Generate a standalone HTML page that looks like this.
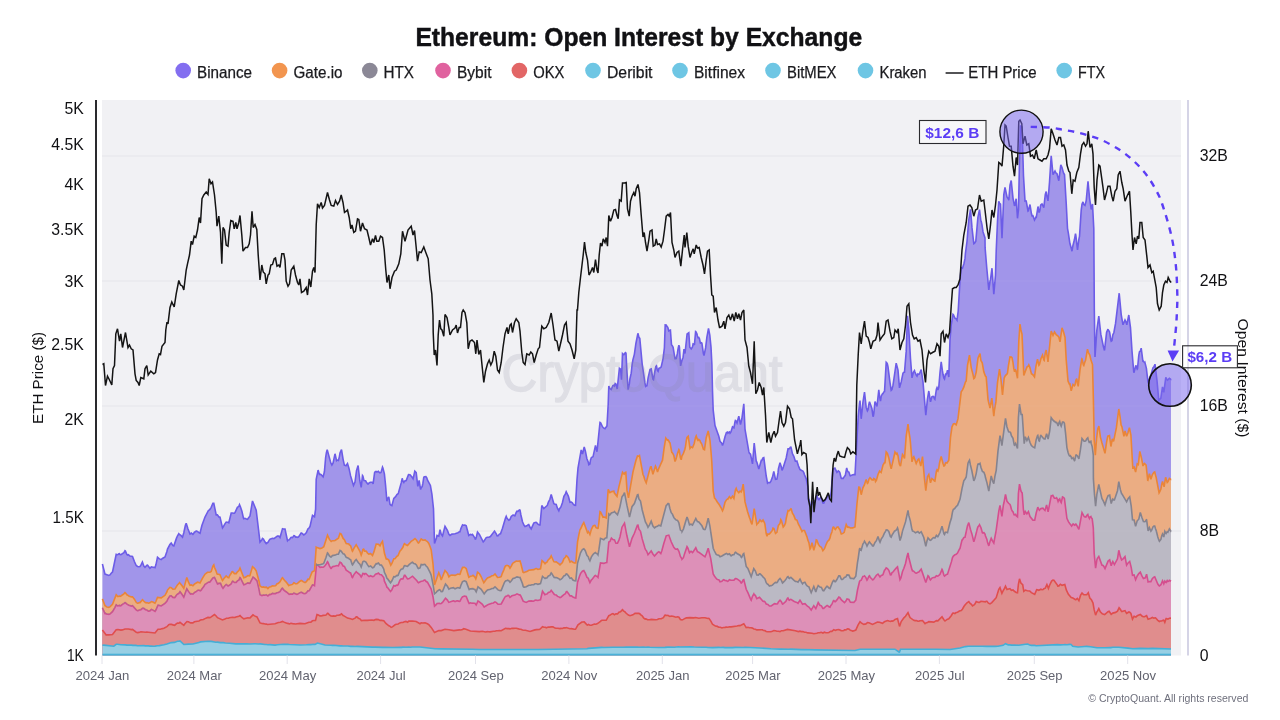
<!DOCTYPE html>
<html lang="en"><head><meta charset="utf-8"><title>Ethereum: Open Interest by Exchange</title>
<style>html,body{margin:0;padding:0;background:#fff}body{width:1280px;height:720px;overflow:hidden}svg{display:block}text{font-family:"Liberation Sans",Arial,Helvetica,sans-serif}</style></head><body>
<svg width="1280" height="720" viewBox="0 0 1280 720">
<rect width="1280" height="720" fill="#ffffff"/>
<text x="415.4" y="46.2" font-size="25" font-weight="700" fill="#111114" stroke="#111114" stroke-width="0.45" textLength="446.8" lengthAdjust="spacingAndGlyphs">Ethereum: Open Interest by Exchange</text>
<circle cx="183.2" cy="70.6" r="7.8" fill="#836ef0"/>
<text x="197.0" y="77.7" font-size="15.6" fill="#1a1a1e" stroke="#1a1a1e" stroke-width="0.25" textLength="55.0" lengthAdjust="spacingAndGlyphs">Binance</text>
<circle cx="279.6" cy="70.6" r="7.8" fill="#f2954f"/>
<text x="293.5" y="77.7" font-size="15.6" fill="#1a1a1e" stroke="#1a1a1e" stroke-width="0.25" textLength="49.0" lengthAdjust="spacingAndGlyphs">Gate.io</text>
<circle cx="369.8" cy="70.6" r="7.8" fill="#8b8896"/>
<text x="383.5" y="77.7" font-size="15.6" fill="#1a1a1e" stroke="#1a1a1e" stroke-width="0.25" textLength="30.5" lengthAdjust="spacingAndGlyphs">HTX</text>
<circle cx="443" cy="70.6" r="7.8" fill="#e0629f"/>
<text x="457.0" y="77.7" font-size="15.6" fill="#1a1a1e" stroke="#1a1a1e" stroke-width="0.25" textLength="34.5" lengthAdjust="spacingAndGlyphs">Bybit</text>
<circle cx="519.4" cy="70.6" r="7.8" fill="#e26666"/>
<text x="533.25" y="77.7" font-size="15.6" fill="#1a1a1e" stroke="#1a1a1e" stroke-width="0.25" textLength="31.2" lengthAdjust="spacingAndGlyphs">OKX</text>
<circle cx="593" cy="70.6" r="7.8" fill="#6ec6e4"/>
<text x="607.0" y="77.7" font-size="15.6" fill="#1a1a1e" stroke="#1a1a1e" stroke-width="0.25" textLength="45.5" lengthAdjust="spacingAndGlyphs">Deribit</text>
<circle cx="680" cy="70.6" r="7.8" fill="#6ec6e4"/>
<text x="694.0" y="77.7" font-size="15.6" fill="#1a1a1e" stroke="#1a1a1e" stroke-width="0.25" textLength="51.0" lengthAdjust="spacingAndGlyphs">Bitfinex</text>
<circle cx="773" cy="70.6" r="7.8" fill="#6ec6e4"/>
<text x="787.0" y="77.7" font-size="15.6" fill="#1a1a1e" stroke="#1a1a1e" stroke-width="0.25" textLength="49.5" lengthAdjust="spacingAndGlyphs">BitMEX</text>
<circle cx="865.5" cy="70.6" r="7.8" fill="#6ec6e4"/>
<text x="879.5" y="77.7" font-size="15.6" fill="#1a1a1e" stroke="#1a1a1e" stroke-width="0.25" textLength="47.0" lengthAdjust="spacingAndGlyphs">Kraken</text>
<circle cx="1064.2" cy="70.6" r="7.8" fill="#6ec6e4"/>
<text x="1078.0" y="77.7" font-size="15.6" fill="#1a1a1e" stroke="#1a1a1e" stroke-width="0.25" textLength="27.0" lengthAdjust="spacingAndGlyphs">FTX</text>
<line x1="945.6" y1="73" x2="963.6" y2="73" stroke="#1a1a1e" stroke-width="1.5"/>
<text x="968.3" y="77.7" font-size="15.6" fill="#1a1a1e" stroke="#1a1a1e" stroke-width="0.25" textLength="68.2" lengthAdjust="spacingAndGlyphs">ETH Price</text>
<rect x="102.0" y="100.0" width="1079.0" height="555.5" fill="#f1f1f4"/>
<line x1="102.0" y1="156" x2="1181.0" y2="156" stroke="#e5e5ea" stroke-width="1"/>
<line x1="102.0" y1="281" x2="1181.0" y2="281" stroke="#e5e5ea" stroke-width="1"/>
<line x1="102.0" y1="406" x2="1181.0" y2="406" stroke="#e5e5ea" stroke-width="1"/>
<line x1="102.0" y1="531" x2="1181.0" y2="531" stroke="#e5e5ea" stroke-width="1"/>
<path d="M102.4,564L105,574.1L108.8,575.4L109.9,574.9L111.4,573L112.5,572L116.2,554.3L117.4,554.7L117.9,554.6L118.9,553.8L119.4,553.7L120,554.6L120.9,554.7L123.9,552.7L125,550.8L125.4,551.1L126.9,554.5L127.5,555L128.4,554.6L129.9,556.1L132.5,556.4L134.4,561.5L136.2,565.5L137.5,566.5L138.9,566.7L140,566.5L140.9,565.2L142.4,562.1L143.8,566L145,567.3L146.9,565.2L147.5,565.1L149.9,568.2L151.4,566.8L152.9,567.3L154.4,567.4L155,567.7L155.9,564.8L157.5,557.3L159.4,558.9L161.2,559.5L162.4,558.5L165,557L166.9,551.4L167.5,549L169.9,544.5L171.2,543L172.9,545.6L173.8,545.9L176.4,538.4L177.4,536L178.8,533.7L179.4,534.4L180.9,535.4L182.5,537.2L183.8,532.7L185.4,525.3L186.2,523.2L187.9,528.7L190,534.1L191.4,533.1L192.9,534.3L193.8,533.3L194.4,532.2L195.9,531.4L196.2,530.9L197.4,531.4L198.9,532.7L200,533.3L201.9,525.6L205,517.1L208.4,510.5L209.4,509.9L209.9,509.4L211.2,507.3L212.9,503.3L213.8,503.3L216.2,514.9L217.4,514.8L218.9,516.9L220,517.1L222.5,527.9L223.4,526.6L224.9,523.9L226.2,522.1L226.9,522.3L227.9,522.2L228.8,522.7L231.2,513L232.5,513L233.9,513.2L234.4,513.2L235,512.6L237.4,507.3L238.9,506.3L239.5,504.6L240.4,506.7L241.9,511.2L243.4,518L243.8,518.8L244.9,518.3L246.4,519L247.5,519.3L250,515.9L252.5,501L256.2,510.1L260,542.1L261.9,539.7L262.5,538.5L263.4,539.1L264.9,541.8L266.2,543.7L267.9,542.4L269.4,539.9L270,539.3L272.5,538.3L273.9,538.6L277.4,536.1L278.4,536L278.9,536.2L280,537.5L282.5,528.7L283.4,529L285,529.1L287.5,540.7L287.9,540.2L289.4,539.7L290.9,537.5L291.2,537.3L292.5,537.6L293.9,535.6L294.4,535.7L295,536.3L295.4,537L295.9,537.2L296.9,536.9L297.5,537.4L298.4,537.1L301.2,533L301.9,533.2L303.8,534.9L304.9,534.2L306.4,532.5L307.9,528.9L309.4,527.5L310,526.4L312.5,515.4L313.9,516.5L314.5,516.8L315.6,509.2L316.2,479.3L318.1,470.1L319.4,474.4L320,474.2L321.2,474.7L323.1,476.9L324.4,471.8L325.6,457.8L326.4,452.7L327.2,449.7L330.4,461.4L330.9,463L331.9,465L333.1,463L335,453.8L336.5,460.4L336.9,459.9L338.4,460.4L339.4,456.6L340,452.9L341.5,449.6L343.1,459.3L344.4,465.3L344.9,465.3L346,465.8L347.5,463.6L349,468.4L350.6,475.9L353.5,485.4L355,482.1L356.5,470.6L358.1,465.5L359.8,480.5L361.2,487.4L362.5,475.6L362.9,476.1L364,480.6L365.6,480.8L366.4,482.3L367.9,484L368.1,484.1L369.4,482.8L370.6,482.3L371.9,482.2L372.4,482.5L373.1,483.9L374.6,472.6L375.4,471.6L376.5,471.5L376.9,472L378.4,471.3L378.8,471.9L379.9,472.8L381,472.4L382.5,467.2L382.9,468.1L384.4,473.8L385.6,485.5L386.9,501.3L387.5,499.1L388.8,496.8L390,504.3L390.8,505L391.9,505.6L393.8,498.4L395.4,496.9L396.2,495.8L396.9,494.6L398.1,493.7L398.4,493L401.2,482.9L402.2,478.3L402.9,481.2L403.8,482.5L404.4,481.2L406.2,480.6L408.5,474.6L410,474.8L411.9,477L413.1,478.8L414.8,471.2L416.2,472.6L417.8,486.3L418.4,484.2L419.1,480.5L420.6,489.6L421.2,487.6L422.2,486.5L422.9,483.2L423.8,477.2L424.4,476.8L425.9,476.7L426.9,478.1L427.4,479.9L430.4,485.4L431.9,494L433.5,508.7L434.5,543.5L436.4,538L437,535.4L438.8,536.2L440,529.7L441.2,534.2L442.5,535.9L445,526.3L447.4,530.4L448.9,534.3L450,535.4L451.9,534.1L455,533.7L457.9,532.7L459.4,531.8L460,531.7L460.9,528.6L462.5,524.9L462.9,525.2L464.4,525L465.4,525.2L466.2,525.8L468.8,535.4L470.4,534.4L471.9,534.8L472.5,534.4L474.9,538L475.5,539.6L476.4,536.7L477.5,532.1L479.4,534.4L483.2,541.9L484.2,540.7L486.2,537.6L487.4,537.3L488.9,537.2L490.4,536.6L494.5,531.1L496.4,534.1L497,535.8L497.9,535.9L499.4,534.1L500.5,533.8L502.4,528.4L505.5,518L506.2,516.3L507,518.4L508.8,520.3L510,519.4L511.2,516.4L511.9,515.8L513,515.1L513.4,515L514.4,515.7L514.9,515.8L516.2,512.4L517,511.2L517.9,511.3L519.4,509.9L520,510.1L520.9,515L522.5,521.8L523.9,525.1L525,526.5L526.9,525.8L528.4,524.6L528.8,524.6L530,527.3L531.2,528.9L533.8,523.1L534.4,522.7L535.9,522.3L536.4,522.5L537.9,524.1L539.4,524.9L540,524.9L541.8,505.5L543.8,508.6L546.9,505.8L547.5,504.8L548.4,502.1L549.9,499.3L551.2,494.4L553.8,503.5L554.4,503.9L556.2,504.4L557.5,508.5L558.8,510.8L559.4,508.9L560.9,506.9L562.4,502.7L563.9,496.2L565.4,493.9L566.2,491.8L568.4,496.2L570,502.3L571.4,502L572.5,503L572.9,503.7L574.4,505.3L575.5,505.4L577,479.7L578,468.1L581.2,449.9L582.5,454L584.2,447L585.4,451.2L586.9,458.7L588.4,462.5L588.8,464.6L589.9,463.9L590.5,460L591.4,457.5L593,456.8L595.5,445.4L595.9,447.8L597,451.7L600,422.4L600.5,422.6L600.9,423.3L602.5,426.9L603.8,428.2L605,428.8L605.4,428L606.8,426.3L607,425.2L608.2,404.3L608.8,386L609.9,388.6L611.2,389.6L612.9,385.5L613.8,385.1L614.4,385.8L615.2,383.5L615.9,384L617.2,389L619.4,368.3L620.6,369.2L621.5,379.6L622.5,353.7L623.4,354.6L623.9,354.6L625.4,352.7L626,353.1L626.9,370.9L628.1,389.6L629.4,383.7L629.9,379L631.2,373.2L632.1,364.7L632.9,359.9L634.4,354.1L635.9,343.5L637.9,333.3L638.9,337.3L639.8,338.4L642.2,364.2L644.9,382.7L645.6,386.4L646.4,385.8L646.9,385.8L648.1,377.8L650,369.5L650.9,369L651.2,368.9L652.9,379L653.5,379.6L655,370.5L655.9,366.5L656.5,365.9L657.4,370.4L658.1,371.3L658.9,368.5L659.4,367.9L660.4,367.8L661.2,366.9L663.1,358.3L664.4,347.8L665.2,325L666.2,325.1L666.9,326.4L667.8,327.3L668.8,330.9L669.4,330.4L670.4,330.1L671.5,344.8L672.4,345.9L673.1,347.3L675,358.8L675.9,358.8L676.2,358.5L677.4,353.4L677.8,350.3L678.4,347.1L678.9,345.3L679.4,346.9L680.6,365.9L681.9,360.6L683.1,357.2L684,349.1L685,353.5L687.1,334L688.8,332.8L689.8,347.3L691.2,349L692.5,346.9L693.1,343.9L693.9,344.2L694.4,345L695.6,331.4L695.8,331.5L696.9,333.8L697.4,336L698.1,337.8L698.8,337.5L699.4,338.5L700.4,343.1L700.6,343.2L701.4,342.8L701.9,343.2L703.4,353.6L704,355.6L705.6,347.9L706.9,337.1L708.5,328.5L709.8,335.2L711,347.1L711.9,364.6L712.5,391L713.2,410.2L715,425.5L718.8,436.3L720,441.1L720.4,441.8L721.4,442.7L721.9,443.5L722.5,445.4L723.4,443L725,436.8L726.4,432.5L727.5,432.1L727.9,433.2L729.4,432L730,433.2L730.9,431.9L732.5,426.9L733.9,427.9L735,421.8L735.4,420.5L735.9,420.8L737,423L738.8,416.1L740.5,424.5L741.9,418.5L743.8,403.8L745,429.1L748.8,451.4L749.4,453.2L750.5,454.1L752.5,463.9L754.2,443L756.2,461L756.9,462.3L758.8,469L761.2,460.7L761.4,460.8L761.9,460.2L763,457.9L763.8,457.6L766.2,476L767.5,482.9L767.9,482.4L769.4,482.7L770,482.5L770.9,481.1L772.4,477.4L773.8,471.4L775.5,479.4L776.9,479.1L778,472.9L778.4,468.8L780,462.7L781.4,467.1L782,470.3L782.9,468.4L786.2,458L788,448.8L788.9,448.9L789.4,448.7L790.4,447.3L790.9,447.2L791.2,447.9L792.4,453.6L793.8,456.3L795.4,461.2L796.2,461.3L796.9,461L798.4,465.7L799.9,469.4L801.2,470.4L801.4,470.3L802.9,471.1L803.8,472.7L804.5,474.8L806.2,478.7L807.8,486.3L808.5,498.6L808.9,499.1L809.4,500.8L810.6,507L812.6,502.5L813.8,500.7L814.9,501.5L815.4,500.9L816.8,495.2L818.4,499.5L818.9,499.8L819.9,498.4L821,497.5L821.4,498.2L822.9,503L823.8,503.1L824.5,501.3L825.9,499.1L826.5,498.5L827.5,496.4L828.6,494.9L828.9,495.4L829.4,495.6L830.4,495.7L830.7,496L831.7,485.2L832.8,469.3L834.9,468.2L836.9,472.3L838.3,470.9L839.4,471.8L839.9,472.7L841.1,478L841.4,478.4L843.2,478.4L844.4,476.4L845.3,475.3L846.7,468L847.5,471L848.1,471.9L848.9,472.1L850.1,475.7L850.4,475.9L852.2,474.9L853.4,474.6L855,474.7L858.2,416.3L859.5,403.7L860,400.5L861.2,418.8L862.9,402.7L864.5,392.2L866.2,407.4L867,409.7L867.4,410.8L868,409.8L868.9,404.1L869.5,401.8L871.9,408.4L873,416.7L873.4,415.9L873.8,413.3L875,401.5L877,406.4L878.8,389.8L879.5,396.2L880.5,401.2L881.2,396.2L882.5,393.7L882.9,393.7L883.9,391.9L884.4,391.8L884.5,392.1L886.2,362.4L886.9,363.1L887.4,364L888,366.9L890,382.6L891.2,390.3L891.9,389.6L893,385.2L896.2,363.2L898,370.1L899.5,387.9L901.2,381.9L903,373.1L903.9,372.2L904.5,372.2L906.2,351.4L907.5,315.9L908.8,329.4L910.5,358.8L912,377.9L913.4,372.4L914.5,370.7L914.9,372L916.4,375.4L917,376.2L917.9,373.9L918.8,374.4L919.4,374L921.2,369.5L923,382.1L925.8,415.1L927.4,399.4L928.8,391L930.5,401.8L931.9,396.8L933,396.3L933.4,396.4L934.5,398.7L934.9,399.2L936.4,389.1L937,387.6L937.9,389.9L938.8,387L940,372.6L941.2,361.8L942.4,370.7L943,374.3L943.9,378.2L944.5,379L945.4,374.5L945.9,374L946.2,374.3L947,372.3L947.5,370.2L948.8,377L950,339.6L951.2,325.2L953,314.3L953.4,314.7L954.9,318.1L956.2,318.8L957,320.1L958.2,311L960,280.5L961.2,267.5L962.5,268.2L963.9,263.7L965,258.4L965.4,253.7L967,241.5L968.8,219.9L970.5,209.4L972,227.9L973.8,243.7L974.4,243.3L974.9,242.8L975.8,241.2L977.9,217.4L979.5,209.6L980.9,221L981.2,221.4L982,224.9L983,231.7L985,238L985.1,247.9L986.8,268.3L988.8,290L990,281.3L990.5,279.7L992,268.2L993.8,294.2L995.5,275L996.2,251.2L997.5,221.4L998.8,201.2L999.4,203.2L1000.5,204.1L1002,238.3L1003.8,194.5L1005,187.3L1007,196.9L1008.4,199L1008.8,200.3L1010,185.2L1011.2,180.5L1013,198.1L1014.4,205.3L1014.9,205.4L1015,205.2L1015.9,199.6L1016.2,198.8L1017.5,218.3L1018.5,209.5L1019.5,160.8L1020.5,125.4L1020.9,126.2L1022,127L1023.5,176L1025,200.7L1025.3,200.5L1026.2,201L1028,211L1028.4,210.7L1030,204.5L1031.4,213.5L1032,215.9L1032.9,215.7L1034.5,220L1035.9,217.1L1036.2,218.2L1038,206.5L1038.9,211.9L1039.4,211.9L1040,209.9L1040.5,205.9L1040.9,204.8L1042,204L1043.8,207.6L1045.3,194.4L1046.2,191.5L1046.9,196.4L1048,200.9L1049.5,182.3L1051.2,155.8L1053,174.7L1055,171L1055.9,173L1057,173.7L1058.8,180.7L1060.8,164.9L1062,167.5L1063.4,172.6L1063.8,173.5L1064.5,174.5L1066.2,203L1067.5,228.3L1068.4,233.3L1069.9,243.5L1071.2,248L1072,251.2L1072.9,245.7L1074.4,239.8L1075.5,233.7L1075.9,235.9L1077.5,249.9L1078.9,239.1L1079.5,236.5L1081.2,210.1L1081.9,205.1L1082,204.3L1083,201.9L1083.4,203.6L1083.8,204.4L1085,205.4L1086.2,200.7L1088,181.3L1089.5,197.6L1091.2,209.5L1092.5,204L1093.8,228.8L1094.3,308.9L1095,356.9L1096.8,330.7L1098.8,316.2L1100.8,334.2L1103.4,346.6L1104.5,350.5L1106.6,332.3L1108,329.2L1108.1,329.7L1109.4,331.5L1109.7,332.6L1110.9,340.3L1111.2,341.2L1112,340.6L1112.8,334.9L1113.9,332.5L1115.5,323.7L1119.2,293.2L1121.2,314.6L1123,324.8L1125,320L1126.4,323.1L1126.8,324.8L1128.8,315L1130.5,327.9L1132,351L1133.8,372.7L1134.1,372.1L1135.8,365.4L1137.2,369L1137.5,368.6L1138.8,355.4L1139.5,351.7L1140.3,351.2L1141.2,348.1L1143,362L1143.4,361.1L1144.5,362.7L1144.9,363L1145,362.8L1146.4,368.4L1147.9,381.5L1148.8,384.3L1149.4,378.7L1149.7,377.7L1150.8,375.1L1150.9,375.3L1152.9,367.9L1153.9,366.9L1155,364.2L1157,380.7L1158.8,400.5L1159.9,399L1160.8,398.3L1162.5,386.9L1163.8,392.3L1165.8,377.3L1166.4,378.8L1167.5,380.1L1169.4,378.3L1170.9,379.3L1171,379.1L1171,655.5L102.4,655.5Z" fill="#a195ea"/>
<path d="M102.4,598.9L105,605.8L105.4,605.8L106.9,607L108.4,607.2L108.8,607.4L109.9,606.9L112.5,604.3L116.2,594.8L117.4,596.1L117.9,596.5L119.4,596L120,596.3L120.9,596L123.9,593.8L125,592.6L125.4,592.8L126.9,594.8L128.4,595.6L128.8,596L131.4,596.9L132.5,596.8L134.4,599.2L136.2,602.3L137.5,603.3L137.9,603.3L139.4,602.6L140,602.6L142.5,599.7L143.9,601.3L145.4,602.6L146.2,602.9L146.9,602.6L148.4,603.2L149.9,602.8L151.4,601.6L152.9,602L155,603.2L155.9,601.5L157.5,597.4L161.2,597.8L165,595.3L166.9,591.9L167.5,590.1L169.9,587.3L171.2,587.7L172.9,589.2L175,589L175.9,587.3L177.4,585L178.9,583.6L179.5,582.6L181.9,585.5L183.8,588.4L186.8,577.5L188.4,581.9L190,585.3L191.4,584.9L192.9,585.7L194.4,584.1L197.5,582.2L198.9,582.5L200,583L202.4,578.4L205,574.2L207.5,572.3L209.9,572.3L211.2,571.4L212.9,566L213.8,564.8L214.4,567.2L215.9,570.6L217,573.9L217.4,574.1L218.9,574.2L220,574.8L221.9,579.5L222.5,580.5L223.9,578.5L226.2,575.9L227.9,577.5L228.8,577.7L229.5,575.8L231.2,573.3L232,571.7L232.5,571.6L232.9,571.9L234.4,573.6L236.2,573.6L237.4,571.9L238.9,570.6L240,568.1L243.8,577.8L245.4,577.3L247.9,575.5L249.4,575.8L249.9,575.6L252.5,566.6L254.4,568.3L256.2,570.9L258.9,580.8L260,586L261.9,587.2L263.4,586.9L264.9,587.4L266.4,587.1L267.9,588.6L269.4,587L270.9,586.8L272.5,585.8L273.9,586L275.4,585.8L275.9,585.4L276.9,583.9L278.4,583.3L280,581.8L281.9,578.3L282.5,577.7L284.4,580.3L286.2,582.1L288.8,585.6L289.4,585.2L292.5,584.4L293.9,582.7L294.4,582.9L295.4,583.8L296.9,583.7L297.5,583.4L300,581.2L301.2,580.5L301.9,580.8L303.4,581.9L305,582.5L306.4,581.6L307.9,579.3L308.8,579.6L309.4,578.7L312,572.1L312.4,571.7L314.5,570.8L316.2,547.1L317,547.6L318.4,547.9L320,548.6L321.9,547.9L323.8,546.8L327.5,535.2L329.4,539.4L331.2,541.5L332.4,540.7L333.9,540.7L335,540.4L338.4,538.2L340,533.5L341.2,534.1L343.1,538.4L344.4,539.6L345,541.2L346.2,543.6L347.5,543.7L348.8,544L349.4,544.9L350.6,545.7L352.2,550.8L352.5,551.2L353.9,548.4L356.2,544.7L359.9,551.3L361.2,555.1L361.9,553.3L362.9,549.5L363.4,549.2L363.8,549.3L364.5,551.1L365.9,551L366.4,551.4L367.4,553L368.8,554.2L369.4,554.1L370.6,553.4L372.5,555.5L373.9,551.9L376.2,544.1L378.4,544.3L380,545.9L381.4,542.9L382.5,541.3L384.4,553.1L386.2,559L387.5,559.1L388.8,560.1L390.8,565.2L391.9,563.5L393.8,558.7L395,558.6L395.4,558.3L396.9,556.3L397.5,556.1L398.1,555.5L399.9,551.1L401.2,549.7L402.9,547.3L403.8,544.7L404.4,543.6L405.9,544.7L407.5,545.5L411.2,541.3L413.4,539.9L415,538.6L416.4,539.9L417.9,542.5L418.4,543L418.8,542.9L421.2,539L422.9,540.2L425,539.9L425.9,540.7L427.4,541.6L428.8,543.5L430.4,547.4L431.2,549.9L433,563.8L434.5,585L438.8,572.8L439.9,575.4L441.2,580L445,570.5L447.4,573.2L448.9,576.9L450.4,575.5L451.9,575L455,575.4L457.9,574.1L459.4,574.5L460,574.4L460.9,571.5L462.5,567.5L462.9,567.6L463.9,567.2L464.4,567.2L466.2,568.5L468.8,577.2L470.4,576.3L471.9,576.1L473,575.3L474.9,577.1L475.8,578.9L476.4,577.1L477.5,572.2L478,572.5L479.4,573.7L479.9,574.5L481.2,576.8L483.8,582.7L484.2,582.2L485.9,579.7L487.5,577.9L490.4,576.8L491.9,575.7L493.4,575.5L495,574L497.5,577.5L499.4,577.3L500.9,576.8L501.2,576.6L502.4,573.1L503.9,569.7L504.5,567.9L505.5,565.9L507,565.3L507.4,565.5L508.4,565.8L508.8,566L510,568.2L511.4,565.9L512.5,563.6L513,563L516.2,561L517.9,561.3L520,560.9L520.9,563.8L523,572.2L523.9,572.7L525.4,571.9L526.9,571.6L528.8,570.3L533.8,569.6L535.9,568.6L536.4,568.6L537.9,569.5L540.5,568.8L542,560.5L543.9,562.3L545,563.7L545.4,563.2L546.9,562.1L548.4,559.7L549.9,558.4L551.2,555.8L553.8,561.7L554.9,562L556.2,561.8L558.9,563.8L560,564.8L562.4,562.5L563.9,558.7L565.4,557.3L566.2,555.6L566.9,556.1L568.4,558L570,562L571.4,561.2L572.9,562.2L574.4,563L575.8,563L577.5,542.2L578.9,534.7L580,529.7L580.9,528.3L582.4,524.9L583.8,522.5L587.5,532.6L588.4,531.5L589.9,534.6L591.4,529.4L593,526.1L594.4,525.3L595,525.4L595.9,527.6L596.4,528L597.5,528L598,529L598.9,522.5L600,511.7L600.5,512L600.9,512.7L603,517.2L603.8,517L605,517.2L606.2,517.9L608.2,489.4L609.9,492.7L611.2,492L611.4,491.7L612.9,491.4L613.8,491L614.4,493.1L617,496.4L618.9,486.9L622.5,472.4L623.4,473.6L624.2,474.1L625,472.6L625.8,472.2L627,490.4L628.5,497.9L633,471.9L635.9,460.6L637.5,455.9L638.9,456.3L639.5,455.7L643,474.5L643.8,476.2L644.9,480L646.2,482.8L648.8,472.9L650.5,466.9L651.2,466.8L652.9,474.2L655.5,466L655.9,466.7L657.5,472L658.9,468.2L662.5,460.2L664.2,447.4L665.8,438.1L666.9,439.8L667.5,440.2L667.9,439.8L668.4,440.2L669.4,442.2L670,442.9L671.8,452.5L672.4,452.9L672.9,453.6L673.8,455.5L675,461.5L675.9,459.5L677.5,453.5L678.9,449.7L679.2,450.2L680.4,457.9L681.2,459.8L681.9,456.1L683.4,453.3L684.9,449.2L685.5,446.4L686.4,440.1L687,437.5L688.2,436.2L690,448.4L690.9,447.1L691.2,446.9L692.5,447.6L692.9,446.8L694.2,443.5L695.6,437.2L696.2,435.9L697.4,439.6L698,440.4L698.8,439.5L700,440.6L700.4,442L701.4,443.5L701.9,444.5L703.4,449.1L704.5,449.7L706.2,437.7L708.2,430.9L710,440.5L711,451.7L711.8,462L713.2,491.1L713.9,494.8L714.5,498L715.4,498.9L717.4,502.2L718.8,504L721.4,508.4L722.5,510.8L723.4,508.7L725,502.4L726.4,499.9L727.5,499L727.9,499.2L729.4,496.7L730.9,498.5L732.5,496.2L733.9,498.5L735.4,490L736.2,488.3L737,490.7L738.8,492.7L740,491.1L740.4,491.2L741.2,491.9L741.9,490.3L743.2,484.1L745,501.9L747.5,511.5L749.4,517.5L750,518.7L750.9,522L752,524.3L754.2,508.6L756.8,524.4L757.4,523.5L758.4,522.9L760,519.9L761.4,521.5L761.9,521.4L763,520L764.4,522.5L764.9,524.1L766.2,533.6L767,536.3L767.5,534.7L767.9,534L768.9,534.2L769.4,534.1L771.9,531L772.4,530.2L773,528.2L773.9,528.6L775.5,533.4L776.9,532.3L778.4,525.4L780,523.4L780.8,519.6L781.4,520.6L783.2,527L784.4,525.6L785.5,523.1L786.2,518.6L788,510.5L788.9,510.8L789.4,510.6L790.4,509.2L790.9,508.8L791.2,509L792.4,513.1L793.8,515.4L795.4,519.6L796.9,520.1L798.4,524.2L799.9,526.9L802,531.5L802.9,530.5L804.5,530.5L807,536.9L807.8,540.1L808.9,542.7L810,549.1L810.6,548.1L812,542.6L813.8,550.2L815.4,544.6L816.2,539.9L816.8,540.2L818.4,544.4L819.9,546.4L821.4,547.2L822.9,550.7L824.5,548.7L825.9,545L827.5,541.5L828.9,540.2L830,537.9L830.7,535L831.9,532L833,527.3L833.4,527.1L833.8,527.2L834.9,529.1L835.4,529.5L836.9,527.1L838,526.9L838.3,527.6L839.9,529.7L841.2,533.9L841.4,533.9L842.9,533.4L844.2,532.3L846.2,524.6L847.5,527.2L848.8,527.4L848.9,527.1L850.4,528L852.5,527.9L855,526.9L857,503.5L858.8,487.1L859.5,487.2L859.9,488.2L861.2,494.7L862.9,487.9L864.4,484.9L865.9,480.1L866.2,480L867.4,483.4L868,482.8L868.9,479.4L870,477.8L872,479.9L873.4,479.9L873.8,478.5L875,479.2L875.5,481.6L876.4,480.4L878,474.5L879.5,471.2L879.9,471.8L880.9,471.9L881.2,472.3L883,465.1L884.4,462.8L885,462.7L886.2,452L887.4,453.4L888.8,457.9L890.4,465.7L891.2,468.9L895,452L896.4,454.1L897,453.3L898,455.8L898.8,461.1L899.5,464.4L900.5,466.2L902.5,454.3L902.9,454.8L904.5,458.5L906.2,436L908,424.1L908.8,430.9L910,438.4L910.4,442.1L912,461.9L913.4,457.1L913.8,456.6L916.2,463.5L917.9,459.7L918.8,458.9L920.8,466.1L922.5,456.6L924.5,479.2L925.8,490.7L927.5,476.7L928.8,474.5L930.5,482.9L931.4,479.7L931.9,478.5L933.4,479.8L934.5,481.1L934.9,481.2L936.4,471.3L937,469.9L937.9,471L938.8,468.1L939.4,463.6L940,460.9L941.2,456.5L943,463.4L943.9,466L944.4,465.9L945,465L945.4,463.2L945.9,462.7L947,463L948.8,460.2L950.5,437.4L952,426.8L953.4,424L954.5,423.6L956.2,424.9L958,418.7L961.2,391.9L962.4,390.1L963.8,387.2L965.4,382.1L966.2,381L967.5,365.4L969.5,355.1L971.2,367.6L972.9,374.1L973.8,378.6L974.4,378.2L974.9,377.2L976.2,372.1L977.9,358.8L978.2,357.6L980,353.7L980.9,360.6L982,362.4L982.4,363.6L983.8,371.8L985.4,376L986.2,376.9L988,399.3L988.4,401.4L990,408.1L991.8,398.2L993.8,416.2L994.4,410.5L995.9,401.9L997.5,382.7L999.5,369.1L1000.9,379L1002.5,394.8L1004.2,377.9L1005.4,375.6L1006.9,374.2L1007.5,373.1L1008.4,365.8L1010,356.9L1011.4,357.1L1012,357.6L1013,362.6L1013.8,368.7L1014.4,371.1L1014.9,371L1015.5,370L1015.9,370.6L1017.5,378.3L1018.8,341.3L1020,324L1020.9,329.9L1022,334.1L1023.8,375.4L1026.9,367.1L1028.4,365.9L1028.8,365L1029.9,367.6L1031.4,373.8L1032.9,374.7L1034.5,376.9L1035.9,366.6L1037.5,359.1L1038.9,365.3L1039.4,364.7L1040.9,358.7L1042.5,355.1L1043.8,359.8L1044.2,360.3L1045.3,353L1046.2,350.1L1048,361.8L1051.2,331L1053,335.5L1054.5,332L1056.2,334.7L1058,336.1L1058.9,337.2L1060,341.8L1062,327.8L1063.4,331.5L1065,337.3L1066.2,359.6L1068,381L1069.5,384.3L1069.9,384.5L1070,384.4L1071.2,390.9L1073,384.5L1074.4,385.8L1075,385L1075.9,380.2L1076.8,378.5L1077.4,383.2L1078.2,386.3L1080,369.9L1081.8,358.9L1081.9,358.7L1082,358.8L1083.4,364.9L1083.8,365.5L1085,361.5L1085.5,360.6L1087.5,349.1L1088.3,352.3L1089.8,355L1090.9,359.7L1092.5,364.6L1093.4,399.9L1094.2,439.7L1095.3,455.3L1096.6,438.5L1097.7,429.1L1098.9,426.1L1100.4,437.1L1101.9,442.8L1105,453.4L1106.6,442.1L1107.8,436.1L1109.4,435.5L1110.9,446.5L1112.2,439.6L1112.4,439.3L1112.8,439.4L1113.6,441.4L1116.4,427.7L1118.8,409L1120,416.3L1121.1,425.1L1121.9,426.7L1123.9,436.3L1125,431L1126.6,436.3L1127.9,433L1129.4,427.6L1130.9,435.2L1132.8,467.7L1134.1,466.9L1135.6,472L1137.2,463.9L1138.3,464.6L1139.8,451.4L1141.4,457.7L1143,466L1143.4,465L1144.5,463.5L1146.1,465.2L1147.7,480.2L1147.9,480.3L1149.4,473.6L1150.9,479.2L1152.4,474.6L1153.9,472.3L1154.7,471.9L1155.5,475.1L1156.2,477.5L1159.1,492.9L1159.9,491.5L1160.9,489.1L1161.7,484.5L1162.5,481.5L1164.1,486.8L1165.6,477.3L1167.2,482.6L1167.9,481.9L1169.4,478.4L1170.9,479.4L1171,479.3L1171,655.5L102.4,655.5Z" fill="#ebad83"/>
<path d="M102.4,607.8L105,613.5L105.4,613.4L106.9,614.3L108.4,614.2L108.8,614.4L109.9,614L110.4,613.7L112.5,611.7L114.9,607.6L116.2,604.8L117.4,605.8L117.9,606L119.4,605.4L120,605.8L120.9,605.7L122.4,604.3L123.9,603.6L125,602.7L125.4,602.8L126.9,604.1L128.8,605.3L131.4,606.1L132.5,605.7L136.2,609.8L137.5,610.8L137.9,610.8L139.4,610L140,610L140.9,609.7L142.4,608.4L143.8,608.4L145.4,609.7L146.9,610L147.5,610.7L148.4,611.2L149.9,610.9L151.4,609.5L152.9,610.1L155,611.4L155.9,610L158,605.2L161.2,606L165,603.3L166.9,601.2L168,598.9L169.9,596L171.2,595.9L172.9,597.4L174.4,597.7L174.9,597.5L176.4,595.2L177.4,594.2L178.9,593.4L180,591.7L181.9,594.2L183.8,597.1L186.8,588.8L188.4,591.4L190.5,594.1L191.4,593.8L192.9,594.2L194.4,592.6L195.9,591.8L198,590.2L198.9,590.2L200.4,590.8L201.2,590.3L201.9,589L203.8,586.6L205,584.4L206.4,583.6L208.4,582.2L209.4,582.2L209.9,582L212.9,578L214.5,577.4L217.5,584L218.9,583.4L220.5,583.4L221.9,586.6L223,588.3L224.9,585.7L226.2,584.5L227.9,585.9L228.4,585.9L230.9,584.2L231.2,583.9L232.5,581.2L232.9,581.2L234.4,582.5L236.2,582.4L237.4,580.9L238.9,580.1L240,577.6L240.4,578L243.8,584.8L244.9,584.6L247.9,582.9L249.4,583.5L249.9,583.3L253,577.1L254.4,578.1L257,580.9L258.9,588.9L260,594.8L261.9,595.7L263.4,595L264.9,595.2L266.4,594.8L267.9,596L269.4,594.6L270.9,594.5L272.5,593.4L273.9,593.7L275.4,593.6L276.9,592.8L277.5,592.8L278.4,592.5L280,591.6L281.9,588.5L282.5,588.3L283.4,589.7L284.4,590.6L286.4,592L289.2,594.4L290.9,594L292.5,594.2L293.9,593.2L296.9,594.4L297.5,594.3L300,592.7L301.2,592.3L301.9,592.5L303.4,593.5L305,593.7L306.4,593L307.9,590.8L308.8,591L309.4,590.5L312.5,584.9L313.9,585.3L314.5,585.7L316.2,565.9L316.5,564.6L317.5,565.2L318.4,564.8L320,564.7L323.1,563.7L323.8,563.3L325.9,557.8L327.5,552.9L327.9,553.2L329.4,555.9L330.9,557.1L331.2,557L332.4,555.6L335.4,555.1L336.9,554.3L338.4,554.3L340,550.4L341.2,551.2L343.1,553.9L344.4,554.2L346.2,557.3L347.9,557.9L348.8,558.4L349.4,559.2L350.6,559.7L352.2,564.6L352.5,564.9L355,560.8L356.2,559.6L358.4,562.7L359.9,564.2L361.2,567L362.9,561.7L363.4,561.3L364.5,561.2L365.9,562L367.4,564.7L368.8,566.7L369.4,566.6L370.6,566L372.5,567.9L373.4,567.6L373.9,567.2L375.4,564.7L376.2,563.7L376.9,563.8L378.4,563.1L379.9,565L381.4,565.1L382.9,567.4L383.8,569.2L384.4,572.3L385.9,575.4L387,578.5L387.5,578.7L390.5,582.8L391.9,580.8L393.8,576.7L395,576.9L396.9,575.4L397.5,575.6L398.1,575.3L399.9,570.8L401.2,569.2L402.9,568.9L404.4,565.6L405,565.5L405.9,566.1L407.5,566.4L409.4,564.4L411.9,562.4L412.5,562.2L413.4,563.3L413.9,563.6L415,563.8L416.4,565L417.9,568L418.4,568.6L420,568L421.2,564.4L422.9,564.8L424.4,564.3L425,564.4L425.9,565.8L427.4,567.2L430.4,573.1L431.2,575.2L433,584.1L434.5,593.8L436.4,592.3L437,591.2L439.4,589.7L440,589.9L441.2,591.6L442.5,591.5L445.5,584L447.4,586.3L448.9,589.1L450.4,588.3L453.4,587.7L455,588.8L457.9,587.5L459.4,588.1L460,588L460.9,585.2L462.5,581.7L462.9,581.6L463.9,580.9L464.4,580.8L466.2,581.7L468.8,588.6L469.2,589.6L470.4,588.9L473,588.6L473.4,589L474.9,589.5L476.2,591.8L478,586.8L481.2,589.3L484.2,593.9L485.9,591.6L487.5,589.9L490.4,589.2L491.9,588.5L493.4,588.4L495,586.8L498,589.9L499.4,590.5L500.9,590.6L501.2,590.4L504.5,582.3L505.5,581L507,580.6L507.5,580.1L508.8,580.7L510,582.2L511.4,580.7L513,578.5L514.9,578.1L516.2,577.2L517,576.9L519.4,577.5L520,577.4L522.4,583.5L523.2,586.5L523.9,587.1L524.4,587.1L526.2,586.7L528.8,585.3L530.4,585.2L531.9,584.7L533.8,584.6L534.9,583.8L536.4,583.8L537.9,584.3L540.5,583.6L542.5,576.4L545,578.5L545.4,578.1L546.9,577.9L548.4,576L549.9,575.4L551.2,572.8L551.9,573.6L553.4,576.3L554.2,577.4L556.2,577.6L557.5,578L559.4,579L560,579.8L560.9,579.4L562.4,578L563.9,575.9L565.4,575.3L566.2,573.9L566.9,574L568.4,575.8L570,578.4L571.4,577.9L572.9,580L574.4,580.7L575.8,580.8L577.5,563.3L580.5,552.9L581.9,550.3L582.4,549.5L583.8,548.8L585,550.3L585.4,551L586.9,555.3L588.4,557L588.8,558.8L589.9,560.8L591.4,556.9L593,554.5L594.4,553.2L595.5,552.5L595.9,553.1L597.5,554L598,554.8L598.9,549.7L600.5,538.3L603.8,539.8L605.4,537.9L606.8,537.8L608.8,513.9L609.9,514.9L611.4,512.9L614.4,511.9L614.5,511.7L617.5,514.7L618.9,510.6L620,506.6L622,496.9L623.4,495L624.5,492.7L626.9,505.2L629.5,517.1L632,506.7L634.4,503.5L637.4,494.9L638,494.6L638.9,499L640.5,501.1L642.2,510L645.4,522L646.9,524.7L648,527.3L649.4,525.2L651.2,521.2L652.9,526.1L654.5,527.9L655.9,526.8L657.4,526.3L658.9,525.2L660.8,525.9L666.2,505.5L666.9,505L667.9,503.6L668.4,503.6L668.8,503.7L669.9,508.5L671.2,512.7L672.4,514.1L673.8,517.3L674.4,518.3L675.9,519.9L677.5,520.4L678.4,521.9L678.9,523L680.4,530.1L681.9,531.2L682,531.7L683.4,529.1L687,517L687.9,519.2L689.5,524.9L690.9,524.1L691.2,524.2L692.5,525L695.8,518.5L697.4,521.6L698.8,522L701.9,525.8L703.4,529.1L704.9,529.8L705,530.1L706.4,525.8L708.2,518.1L709.8,525.7L713.2,548.2L714.4,551L716.2,554.4L717.4,555.1L718.8,555.3L720,556.7L721.9,556L724.4,554.5L726.4,553.5L727.5,554.1L727.9,554.5L729.4,553.8L730.9,555.8L731.2,555.9L732.5,554.8L733.9,554.8L735,552.6L735.4,552.2L735.9,552.4L737,553.5L740,555.2L741.4,557.5L741.9,557L743.2,553.9L743.8,553.4L746.2,566.4L747.9,568.4L751.2,576.7L753.8,568.6L755.4,571L756.8,574.9L758.4,575.1L759.5,573.8L760,573.8L760.4,574.1L762.5,576.2L763.4,577.5L764.4,578.2L765,579.1L766.2,582.7L767.5,584.2L767.9,584.3L769.4,586.1L770.9,585.6L771.2,585.7L772.4,585.1L774.5,583L775.4,582.4L776.9,582.6L777.5,582.1L778.4,580.1L780,578.4L781.4,580.4L782.5,583L783.2,582.4L785,580.5L786.2,578.9L787.5,576.8L788,576.5L788.9,578.2L789.4,578.5L790.4,577.5L790.9,577.4L793.8,580.2L795.4,581.4L796.9,581.5L798,582.1L800,579.1L801.4,582.2L802.5,583.8L802.9,583.2L803.4,582.9L804.5,582.3L805,582.3L806.2,584.8L807.4,586.1L808.9,586.9L811.2,592.7L813.8,586.5L815.8,591.9L816.8,588.8L818.2,585.5L819.9,587.1L821.4,587.4L822.9,590.5L823.8,590.8L825.9,587.6L827,586.3L827.5,586.5L828.9,588L830,588.6L832.5,582L833.4,580.6L833.8,580.3L834.9,581.6L835.5,581.6L836.9,579.5L838.8,575.7L839.4,575.7L839.9,575.9L841.2,578.9L842,579.6L842.9,579.2L844.4,577.5L845.9,576.9L847,574.9L848.9,575.1L850.4,578.3L850.9,578.4L851.9,578.2L853.8,578.8L855.8,576.2L857.5,562.3L858.2,558.3L859.5,549L859.9,548.6L861.2,550.1L862.9,544L863.9,542.6L864.5,541.2L865.9,543.5L867,546.1L868.9,542.5L869.5,541.8L870.4,543.3L871.9,544.8L872.5,546L873.4,545.9L875,542.4L876.4,540.7L878,536.5L879.5,541.3L880,542.3L881.2,539.1L883,536.4L884.4,533.1L885.4,531.7L886.2,529.9L887.4,530.1L888.8,531.5L890.4,536.5L891.2,537.2L891.9,535.4L894.5,531.2L896.4,530L897.5,527.9L898,529.5L900,540.5L901.2,537.1L902.5,531.1L905.5,521.9L908,510.4L908.8,515.4L910.4,521.1L911.9,529.3L912.5,531L913.4,531.2L915.5,532.8L917.9,531.6L919.4,533.2L921.2,531.7L923.8,537.5L925.8,546.3L926.9,541.3L928,537.8L929.9,540.1L930.4,540.4L931.2,540L931.9,539L933.4,537.6L934.9,538L936.4,535.4L937.5,536.6L937.9,536.6L940,532.5L942,526.3L943.9,533.6L944.4,534.4L944.5,534.5L945.4,532.3L945.9,532.1L947.5,532.7L950,522.5L951.4,518.3L952.5,511.9L953,510.2L953.4,509.4L954.5,508.8L956.2,506.5L957.5,505.4L960,499.3L962,488.6L963.8,480.9L965.4,478.5L966.2,477L968,463.2L968.8,461.3L969.5,460.2L970.4,464.9L971.9,471L973.8,480.8L974.9,478.5L976.2,473.6L977.5,465.8L977.9,464.2L978.8,463.9L979.4,464.1L980,463.4L980.9,467.3L982.4,471.4L983.9,472.3L985,475.2L985.4,477.3L986.9,482.6L988.8,491.1L991.2,476L992.9,481.7L993.8,483.7L994.9,476.4L996.2,470.5L998,450.9L1000,435.7L1000.9,439.7L1001.9,445.7L1005.5,418.3L1006.9,426.7L1008.6,431.7L1009.9,431.9L1010.6,432.7L1011.4,435.6L1013,438.4L1014.1,444.4L1014.4,445.2L1014.9,444.8L1015.6,443.5L1017.5,448.5L1018.4,417.9L1019.5,404.1L1021.1,414.4L1022.2,414.5L1024.2,443.7L1025.3,436.7L1026.9,440.5L1028.4,437.4L1030,442.5L1031.4,445.5L1032.9,446.9L1034.7,447.8L1036.2,439.6L1037.5,435.6L1037.8,435.3L1038.9,440.8L1039.4,441.1L1040.5,435.8L1040.9,435.4L1043.8,438.8L1045,439.1L1046.6,433.8L1048.1,439L1049.7,431.1L1051.2,417.6L1052.8,419.9L1054.4,421.6L1054.7,421.5L1055.9,422.6L1056.6,422.4L1057.4,423.9L1058.1,426L1058.9,422.8L1059.7,421.4L1060.4,424.2L1061.2,426.2L1062.5,422L1063.4,422L1063.8,422.3L1064.4,423.3L1065.6,433.7L1066.9,447.6L1068,452.3L1068.8,454.6L1069.5,455.9L1069.9,456.1L1070.3,455.7L1071.2,456.9L1071.6,458.6L1072.7,458.3L1073.1,457.8L1074.4,460.6L1074.7,460.4L1075.9,455.1L1076.2,455L1077.3,455.7L1078.9,458.8L1080.4,449.9L1082,438.5L1084.1,441.2L1085,441.2L1085.9,440.7L1086.7,439L1087.8,437.8L1088.3,439.9L1089.4,443.1L1089.8,441.8L1090.9,441.2L1091.2,443.4L1092.2,446.6L1093.3,455L1093.4,478.9L1094.5,494.7L1095.6,506.2L1096.9,494L1098.8,484.4L1101.9,498.5L1103.4,501.2L1105,504.9L1106.6,499.3L1108.1,495.6L1109.7,495.1L1111.2,503.6L1112.4,499.8L1112.8,499L1113.9,500L1114.4,500L1117.5,490.7L1118.8,481.6L1120.3,489.4L1121.6,493.7L1121.9,493.9L1126.6,501.9L1128.1,498.7L1129.7,496.8L1131.2,506.1L1132.5,519.8L1134.1,520L1135.6,526.4L1137.2,520.8L1138.8,519.2L1140.3,512.4L1141.9,517.6L1143.4,521.6L1144.9,521.7L1145.3,521.5L1146.4,519.7L1146.6,519.8L1148.1,530.9L1149.4,527.6L1150.9,531.2L1151.6,530.4L1153.1,526.7L1153.9,526L1154.7,526.1L1155.5,528.8L1156.2,530.6L1157.8,537L1158.8,539.9L1159.4,541.2L1160.9,539.4L1161.7,535.9L1162.5,534L1163.8,537L1164.8,531.3L1166.1,533.5L1167.2,531.7L1167.9,532.3L1169.4,529L1170.9,531.2L1171,531.1L1171,655.5L102.4,655.5Z" fill="#bbb9c4"/>
<path d="M102.4,607.8L105,613.5L105.4,613.4L106.9,614.3L108.4,614.2L108.8,614.4L109.9,614L110.4,613.7L112.5,611.7L114.9,607.6L116.2,604.8L117.4,605.8L117.9,606L119.4,605.4L120,605.8L120.9,605.7L122.4,604.3L123.9,603.6L125,602.7L125.4,602.8L126.9,604.1L128.8,605.3L131.4,606.1L132.5,605.7L136.2,609.8L137.5,610.8L137.9,610.8L139.4,610L140,610L140.9,609.7L142.4,608.4L143.8,608.4L145.4,609.7L146.9,610L147.5,610.7L148.4,611.2L149.9,610.9L151.4,609.5L152.9,610.1L155,611.4L155.9,610L158,605.2L161.2,606L165,603.3L166.9,601.2L168,598.9L169.9,596L171.2,595.9L172.9,597.4L174.4,597.7L174.9,597.5L176.4,595.2L177.4,594.2L178.9,593.4L180,591.7L181.9,594.2L183.8,597.1L186.8,588.8L188.4,591.4L190.5,594.1L191.4,593.8L192.9,594.2L194.4,592.6L195.9,591.8L198,590.2L198.9,590.2L200.4,590.8L201.2,590.3L201.9,589L203.8,586.6L205,584.4L206.4,583.6L208.4,582.2L209.4,582.2L209.9,582L212.9,578L214.5,577.4L217.5,584L218.9,583.4L220.5,583.4L221.9,586.6L223,588.3L224.9,585.7L226.2,584.5L227.9,585.9L228.4,585.9L230.9,584.2L231.2,583.9L232.5,581.2L232.9,581.2L234.4,582.5L236.2,582.4L237.4,580.9L238.9,580.1L240,577.6L240.4,578L243.8,584.8L244.9,584.6L247.9,582.9L249.4,583.5L249.9,583.3L253,577.1L254.4,578.1L257,580.9L258.9,588.9L260,594.8L261.9,595.7L263.4,595L264.9,595.2L266.4,594.8L267.9,596L269.4,594.6L270.9,594.5L272.5,593.4L273.9,593.7L275.4,593.6L276.9,592.8L277.5,592.8L278.4,592.5L280,591.6L281.9,588.5L282.5,588.3L283.4,589.7L284.4,590.6L286.4,592L289.2,594.4L290.9,594L292.5,594.2L293.9,593.2L296.9,594.4L297.5,594.3L300,592.7L301.2,592.3L301.9,592.5L303.4,593.5L305,593.7L306.4,593L307.9,590.8L308.8,591L309.4,590.5L312.5,584.9L313.9,585.3L314.5,585.7L316.5,564.6L317,565L318.4,565.6L320,567.3L321.4,567.1L323.1,567.2L323.8,566.9L324.9,565.7L326.4,563.7L327.5,561.6L327.9,562.1L329.4,565.8L330.4,567.6L330.9,568.4L331.2,568.4L332.4,566.7L333.9,566.4L336.9,565.5L338.4,565.9L340,562.1L341.2,562.8L343.1,566L344.4,566.4L346.2,570.2L348.8,571.8L349.4,572.5L350.6,572.9L352.2,577.4L352.5,577.6L353.9,574.6L356.2,571.7L356.9,572.4L359.9,574.8L361.2,577L361.9,575.9L362.9,573.4L363.4,573.5L364.5,574.4L365,573.6L365.9,573.5L368.8,576.5L369.4,576.4L370.6,575.7L372.5,576.6L373.4,576.5L373.9,576.2L375.4,574.3L376.2,573.8L376.9,574L378.4,573.1L379.9,574.5L381.4,574.8L382.9,576.4L383.8,577.9L384.4,581.2L385.9,584.3L387,587.3L387.5,587.5L390.5,591.4L391.9,589.7L393.8,585.5L395,586.1L395.4,586L396.4,585.3L396.9,585.1L397.5,585.3L398.1,584.8L399.9,580.3L401.2,578.9L402.9,579L404.4,575.3L405,575.3L407.5,578.9L408.8,578.8L412.5,576.2L416.9,580.8L417.9,582.3L418.4,582.7L421.2,581.2L422.9,581L424.4,580.1L425,580.1L425.9,581.3L427.4,582.2L431.2,589L433,596.7L434.5,606.2L436.4,604.4L437,603.5L439.4,603.4L440,603.7L441.2,603.5L442.5,602.5L445.5,598.2L447.4,600.1L448.8,602.4L451.9,601.3L453.4,600.9L453.8,600.9L455,601.6L456.4,601L456.9,600.9L457.9,600.9L459.4,601.4L459.9,601.3L461.4,598.3L462.5,596.8L462.9,596.8L464.4,596.1L466.2,596.5L468.8,602.8L469.2,603.5L470.4,602.8L471.9,603.2L473,603L473.4,603.2L474.9,603.3L476.2,605L478,601L479.4,601.8L482.4,604.3L484.2,607.1L485.4,606.2L488.4,604.4L491.9,603.2L493.4,603L495,601.9L496.4,602.6L498,604.3L499.4,604.3L501.2,604L504.5,597.8L505.5,596.4L507,596L507.5,595.4L508.4,595.3L508.8,595.5L510,597.4L510.4,597.2L511.9,595.8L514.9,595.1L517,593.8L519.4,594.9L520,594.9L520.9,596.1L523.2,601.1L523.9,601.6L526.2,602.4L528.8,601.1L531.4,600.9L533.4,601.2L533.8,601.1L534.9,600.3L535.9,600.1L537.9,600.5L539.4,600L540.5,599.8L542.5,591.2L545,594.7L545.4,594.3L546.9,594L548.4,592.4L549.9,592.1L551.2,590.3L554.2,594.3L554.9,594.7L556.2,595L557.5,596.4L559.4,597.1L560,597.6L560.9,597.2L563.9,594.6L565.4,593.8L566.2,591.9L566.9,591.5L568.4,593.4L570,595.9L571.4,595.9L572.9,597L573.8,597.3L574.4,597.7L575.8,598L577.5,582.4L579.4,576.4L580.5,573.6L582.4,571.2L583.8,570.6L585.4,573.4L586.9,577.2L588.4,578.5L588.8,580.1L589.9,582.6L591.4,579.8L592,579.4L594.4,576.2L594.9,575.8L595.5,575.5L595.9,575.9L597.5,576.7L598,577.3L600.5,562.9L603.8,563.4L605.4,562.7L606.8,562.6L608.8,542L609.9,541.5L611.4,538.2L612.9,539.6L614.5,540L615.9,543.2L617.5,543.2L618.9,540.1L620,536.9L622,527.2L624.5,523.2L626.9,535.8L629.5,546.7L632,538.3L634.4,533.3L637.4,525.3L638,525.2L638.9,529.2L640.5,531.3L642.2,538.9L644.9,548.1L645.5,549.7L646.4,550.7L646.9,551.7L648,554.7L651.2,551L652.9,554L654.5,556.1L657.5,552.7L658.9,551.7L660.8,553.6L661.9,550.4L663.8,543.6L666.2,535.8L668.8,535.1L671.2,541.8L673.8,547.3L675.4,549L675.9,549.2L677.5,548.9L678.9,551.3L680.4,556.4L681.9,558.7L682,559.3L683.4,557.7L684.5,553.9L687,546.7L687.9,548.2L689.5,552.7L690.9,551.3L691.2,551.3L692.5,552.6L692.9,552.3L695.8,547.7L697.4,551.6L698.8,552.3L701.4,554.1L705,556.8L706.4,553.5L708.2,548.2L710.8,558.8L713.2,574L714.4,576L715.9,578.1L716.9,579.2L717.4,579.5L718.8,579.7L720,581.7L721.9,581.2L722.9,580.2L723.8,579.7L724.9,580.5L726.4,580.6L727.5,581.3L727.9,581.2L729.4,579.7L730.9,580.2L733.9,580.2L735,578.9L735.4,578.6L735.9,578.6L737,578.9L740,581L741.2,583L741.9,582.4L743.2,579.9L743.8,579.6L746.2,589.3L747.9,592.7L750.9,599.8L751.2,600.2L752.4,596.5L753.8,593.9L753.9,594.2L755.4,595.6L756.8,598.7L759.5,597.2L763,601.3L763.4,601.4L764.4,601.3L764.9,601.7L766.2,604L767.9,604.5L769.4,606L771.2,605.9L774.5,603.6L776.9,604L777.5,603.8L778.4,601.9L780,600.2L781.4,601.8L782.5,604.1L782.9,604L785,602.2L785.9,601.2L787.5,598.2L787.9,597.9L788.9,599.9L789.4,600.3L790.4,599.5L790.9,599.3L793.8,601.2L795.4,602L796.9,602.4L798,603.3L800,600.2L802.5,604.2L802.9,604L805,603.6L807.4,606.2L808.9,607.1L811.2,610.1L813.8,605.7L815.8,608.6L818.2,602.6L819.9,605.3L821.4,605.8L822.9,608.4L823.8,608.5L824.5,607.6L827,605.5L827.5,605.5L828.9,606.8L830,607.2L830.7,605.7L831.9,604.2L833.4,600.8L833.8,600.5L834.9,601.6L835.4,601.6L836.9,599.9L838.8,597L839.9,597.7L841.4,599.9L844.5,602.6L845.9,601L847,598.9L848.9,599.5L850.4,602.3L853.8,602.4L855.8,600.1L857.5,590L859.5,581.5L859.9,580.9L861.2,580.1L862.9,576.4L863.9,576.3L864.5,575.8L865.9,577.6L867,580.2L867.4,579.7L868.9,576.3L869.5,575.8L870.4,577.5L871.9,578.9L872.5,579.8L873.4,579.6L876.4,575.2L878,574.1L880,576.9L881.2,575.5L882.5,575.1L883,574.5L884.4,570.5L885.4,569.4L886.2,567.8L887.4,568.6L888.8,570.3L890.4,574.8L891.2,574.7L891.9,572.8L893.4,571.5L894.5,570L896.4,567.9L897.5,566.9L900,579.6L900.9,577.9L902.5,571.5L903.9,568.3L905.5,563.5L906.9,557L908,552.9L908.8,557.5L911.9,569.4L912.5,570.9L913.4,571L915.5,573.1L916.4,573.2L917.9,572.3L918.8,572.1L921.2,569.2L925.8,582.4L928,575.7L928.8,576.4L929.9,579.2L930.4,579.9L931.2,579.1L931.9,578.1L933.4,577.5L934.9,577.4L936.4,575.8L937.5,576.2L937.9,576.1L939.4,574.8L940,574.2L942,569.4L942.4,570.1L943.9,575.1L944.5,576.1L945.9,574.8L947,574.2L947.5,574.2L951.4,561.9L952.5,557.6L953.4,556.1L954.5,555.1L955,554.7L956.2,554.3L957.5,553L959.4,549.2L960,548.4L962,540L962.4,540L963.9,537.4L965,537.2L967.5,525.8L968.8,522.6L970.4,529.3L971.9,533.9L973.8,541.7L974.9,538.3L977.5,528.1L977.9,526.9L978.9,525.8L979.5,524.7L980.9,527.5L982.4,532.8L982.5,532.9L983.9,532.7L985,534.1L985.4,535.8L986.9,539.4L987.5,542.4L988.8,545.9L990,541.5L991.2,538.3L992.9,541.7L993.8,543.1L996.2,530.1L998.8,511.1L1000,505.4L1001.9,516.3L1003.4,504.8L1003.9,503.1L1005.5,494.3L1007,501.3L1008.6,503.3L1010,504.4L1010.6,506L1011.4,509.3L1012.5,511.4L1013,511.8L1014.1,514.9L1014.4,515L1015.6,514.3L1016.2,515.7L1017.5,516.8L1018.4,493.5L1019.5,484.2L1020.9,490.8L1021.1,491.4L1022.2,493.1L1023.4,509.5L1024.2,514.8L1025.3,511.5L1026.9,513.9L1028.4,511.6L1030,516.6L1032.9,520.1L1034.7,520.2L1036.2,513L1037.8,507.1L1038.9,509.7L1039.4,510.3L1040.5,508.8L1040.9,508.6L1043,508.2L1043.8,509.2L1045,510.4L1046.6,504.9L1048.1,511.9L1051.2,495.9L1051.4,496L1052.8,495.3L1054.4,498.2L1055.9,498.3L1056.6,497.8L1057.4,499.3L1058.1,501.5L1058.9,499.7L1059.7,498.8L1060.4,501.3L1061.2,502.6L1062.5,497L1063.4,497.5L1064.4,498.4L1066.9,518.4L1068.4,521.7L1069.5,523.3L1071.2,525.4L1071.6,526.1L1073.1,524L1074.7,525.2L1075.9,524.1L1076.2,524.3L1078.9,529.4L1082,512.6L1083.8,515.9L1084.1,516.3L1085,516.9L1085.9,517.1L1086.7,515.5L1087.8,514.4L1088.3,516.1L1089.4,518.4L1089.8,517.3L1090.9,516.5L1091.2,517.6L1092.2,518.8L1093.3,527.9L1094.2,553.7L1095.6,568.1L1096.9,559.6L1097.4,558.4L1098.8,556.5L1101.9,565.1L1103.4,565.7L1105,568.6L1108.1,561.1L1109.7,559.8L1111.2,565.8L1112.4,562.3L1112.8,561.5L1114.4,564.6L1117.5,558.8L1118.8,550.3L1120.3,556.4L1121.6,559.9L1123.4,558.6L1125,556.6L1126.6,565.1L1128.1,562.9L1129.7,561.4L1131.2,567.3L1132.5,575.2L1134.1,574.9L1135.6,579.7L1137.2,576L1138.8,573.6L1140.3,572.2L1141.9,575.9L1143.4,578.6L1145.3,577.8L1146.6,574.2L1148.1,581.9L1149.4,581.5L1150.9,581.6L1152.4,578.5L1153.9,577.1L1154.7,576.8L1157.8,584L1158.8,585.4L1159.4,586L1160.9,584.7L1162.5,580.9L1163.8,583.9L1164.8,581.1L1166.1,582.5L1167.2,580.5L1167.9,581.6L1168.8,581.2L1169.4,580.3L1171,581.3L1171,655.5L102.4,655.5Z" fill="#dd90b8"/>
<path d="M102.4,630.1L106.2,635L106.9,634.8L108.8,634.9L112.5,634.5L116.2,629.8L117.9,629.5L120.9,630.1L122.4,629.9L125,629L128.4,629L131.4,629.6L132.5,629.4L136.2,632.2L137.5,632.6L138.9,632.4L140.9,631.8L145.4,632.3L146.9,632.1L148.4,632.2L155,633L158,629.3L160.4,629.3L162.4,628.6L163.9,628.3L166.9,626.7L168.8,624.6L169.9,624.2L171.4,624.4L174.4,625.3L175,625L175.9,624.1L177.4,623L178.9,623.2L180,622.3L183.8,625.3L184.9,623.7L187,621.5L188.4,621.7L190.5,622.9L191.4,622.7L192.9,622.9L194.4,621.8L198.9,621.1L200.4,620L203.4,619.5L205,618.6L207.9,617.4L209.9,617.6L211.2,616.9L214.5,614.6L215.9,615.7L217.5,617.7L222.5,620L224.9,619.1L226.4,618.3L228.4,618.2L229.5,617.7L232.5,617.2L234.4,617.5L235,617.4L235.9,617L238.9,616.2L240,615.6L241.9,617.5L243.8,618.8L247.9,617.8L249.4,618L250,617.9L253,614.9L254.4,615.9L257,616.9L260,622.9L261.9,623.5L263.4,623.6L264.9,624L266.4,624.1L267.5,624.5L275,623.8L278.4,622.5L280.4,622.2L282.5,621.4L284.9,622.6L287.5,623.4L287.9,623.4L289.4,624L290.9,623.3L292.5,623.6L295.4,624L300,623.4L305,623.7L308.9,622.2L310.9,622.1L312.4,620.8L313.9,620.5L315.5,620.5L317,614.6L318.4,615L320,615.9L321.2,616L323.1,615.4L324.9,615.3L325.9,615L326.4,614.7L327.5,613.3L327.9,613.3L329.4,614.9L330.9,616L332.5,616.1L333.9,615.9L335.4,616.2L336.9,615.3L338.4,615.3L340,614.9L341.5,613.8L343.1,615.6L344.4,616.1L347.5,618.1L350.6,618.8L352.5,619.5L355.4,618L356.2,616.9L356.9,616.9L358.4,618.2L359.9,618.8L361.4,620.6L364.9,620.3L367.4,620.4L371.9,620L373.9,620.3L375.4,619.6L376.5,619.4L378.4,619.6L379.9,620.4L381.4,620.4L383.8,620.7L385.9,623.4L388.9,625.8L390.5,626.6L391.2,627.3L392.4,626.9L395.4,624.6L398.1,623.9L399.9,622.9L401.2,622.5L402.9,622.5L404.4,621.7L405.9,621.4L407.5,622.2L408.9,621.1L412.4,621L416.2,621.5L420,623.7L421.2,622.8L422.9,623L425,622.8L427.4,623.8L428.8,624.7L431.2,627.4L434.5,632.4L438.8,630.6L441.2,630.6L445,629.3L448.9,629.8L453.8,630.6L459.4,629.9L460.9,630L462.5,629.5L463.8,628.7L465.9,629.2L470.4,631L479.4,631.6L482.4,631.3L485.4,632L487.4,631.6L488.9,631.7L490,631.9L493.4,631.2L494.9,631.3L496.4,630.8L497.9,630.8L499.4,630.5L501.2,630.7L505.5,628.3L507,628.6L508.8,628.6L510,628.9L511.9,628.2L513.4,628.4L515,628.2L516.4,628.2L519.4,629.1L520.9,629.2L522.5,630L523.9,630.3L525.4,630.3L530,631.5L534.9,629.9L536.4,629.6L539.4,629.5L540,629.2L542.5,626.6L543.9,627.2L545.4,627.2L546.2,627.8L548.4,627.1L549.9,627.1L551.2,626.7L552.9,626.9L555,628.1L555.9,628.3L557.9,628.3L560,628.6L560.9,628.4L562.4,628.5L563.9,627.8L565.4,627.9L566.2,627.6L569.9,628.7L571.4,628.6L574.4,629.3L575.5,629.3L578,624.8L581.9,622.1L582.4,622L584.2,621.9L586.9,624.9L587.5,625.1L588.4,624.4L589.9,625.3L591.4,625.3L594.4,624.1L595.9,624.2L596.4,624L597.5,623.6L600.5,621.4L601.2,620.6L601.9,620.3L606.2,620.3L608.8,615.7L609.9,615.3L611.4,614.2L612.9,613.6L614.4,614.7L615.9,613.9L617.5,613.9L618.9,612.2L620.5,611.8L622,610.1L622.5,609.7L623.4,610.8L625,611.9L626.2,613.3L628.4,615.1L630,615.7L632.9,614.8L635,613.3L638.9,613.4L640,613.9L640.5,614.7L641.9,615.6L643.8,618.1L644.9,618.9L646.4,619.1L647.5,619.7L649.4,619.7L651.2,619.4L655.9,619.7L657.4,619.5L658.9,618.7L661.2,618.7L663.4,617.6L664.9,615.2L665.2,615.1L666.9,615.5L667.9,615.3L669.4,616.3L669.9,616.4L671.2,616L672.9,616.2L675.4,617.1L675.9,617.2L677.5,616.8L678.4,617L678.9,617.2L680.4,619.5L682,620L683.4,619.4L685,618.4L686.4,617.9L690,617.6L693.9,617.9L695.6,617.5L698.8,618.2L701.9,617.8L705,617.8L707.9,618.5L708.8,618.3L709.4,618.9L711,621.4L712.5,624.3L715.4,626.1L716.2,626.3L716.9,626.2L718.8,627.2L720.4,627.3L721.9,627.9L723.4,627.5L724.9,627.4L726.4,627.1L727.9,627.3L729.4,626.7L731.2,626.9L737,626L738.8,625.5L740,625.6L743.8,623.7L746.2,627.7L747.9,627.3L749.4,627.8L751.2,627.8L752.4,628.1L753.9,629L755.4,629.2L756.8,629.9L761.9,629.7L762.5,629.8L763,630.3L764.9,630.6L766.2,631.4L767.5,631.8L770.9,631.6L772.4,631.3L773.9,630.6L775.4,630.8L776.9,631.2L778.4,631.2L780,631.6L781.4,630.7L783.2,630.8L787.5,629.4L795.4,630.8L798.4,631.6L799.9,631.2L801.4,631.6L802.9,631.6L804.5,632.2L805.9,632.2L807.8,632.9L812,633.3L813.8,633.8L816.8,633.2L818.2,632.7L819.9,632.6L821.4,632.3L822.9,633L824.4,632.2L825.9,632.7L827.5,632.8L828.9,632.4L830.7,631.2L831.9,631.3L833.8,629.6L834.9,630.2L835.4,630.3L836.9,629.8L838.8,629.6L841.2,630.6L842.9,630.8L843.8,630.5L844.4,629.9L845.9,629.9L847.5,628.8L848.9,629.1L850.4,630.3L851.9,630.7L852.5,631.1L853.4,630.9L855.8,630L858,625.1L860,621.7L861.2,622.9L863.8,624.4L865.9,623.9L867.5,622.5L868.9,622.8L872.5,624.4L877.5,622L879.5,622.2L882.5,623.3L884.4,621.8L887.5,620.5L888.9,621.1L890.4,621.4L891.9,620.9L892.5,621.1L893.4,620.8L895,619.4L897.5,618.6L899.5,626.4L901.2,621.6L903.9,617.8L905.5,616.3L908,612.6L910,617.6L913.8,620.3L914.9,620.6L916.4,620.5L917.9,621.3L918.8,621.3L919.9,620.7L922.5,620.6L925,623.6L925.8,623L927.4,622.6L928.8,621.6L933.8,622.1L936.4,620.6L937.9,620.9L942,616.8L943.9,619.8L945,621L947,619.4L948.8,618.8L951.4,615.5L952.5,613.5L953,613.1L953.4,613L954.9,613.5L956.2,612.6L957.5,612.2L959.4,611.1L961.2,610.5L962.4,609.2L963.9,606.5L965,605.1L967,602.8L968.8,601.6L969.9,603.2L971.4,604.3L972.5,605.9L974.4,604.7L974.9,604.1L976.2,601.6L977.9,602.3L978.9,602.4L979.4,602.4L980.9,601.3L985.4,601.9L986.2,601.2L986.9,601.2L988.4,603.2L990,603.8L991.8,602.6L996.2,597.7L998.8,589.3L1000,587.5L1001.9,593.4L1003.4,590.2L1003.9,589.6L1005.5,586.1L1007,589.5L1009.9,588.6L1011.4,590.3L1013,589.9L1014.4,591.3L1016.2,592.4L1017.5,592.8L1018.4,584.4L1019.5,578.8L1020.9,583L1022.7,584.7L1023.8,591.3L1025.3,590.1L1027.3,590.8L1029.7,591L1031.4,592.6L1034.5,594.3L1034.7,594.4L1036.7,589.6L1037.5,589.7L1038.8,590.3L1040.9,589.2L1042,589.7L1043,589.5L1043.8,588.8L1045.3,588.1L1046.9,584.5L1048.4,588.4L1049.7,585L1051.6,581.1L1052.9,580.2L1053.9,580.3L1057.4,585.1L1057.8,586.1L1058.9,585.9L1060.4,584.2L1062,585.3L1064.8,584.5L1066.4,590.2L1068.4,594.3L1071.2,597.6L1072.9,598L1075.5,599.6L1075.9,599.6L1077.3,598.4L1078.9,600.7L1080.5,595.4L1082,593.1L1083.8,594.8L1086.7,594.8L1088.3,592.7L1089.8,598L1091.4,599.8L1093,603L1094.2,609.9L1095.6,615.1L1096.9,611.8L1097.4,611.2L1098.8,608.6L1100.3,611.8L1102.3,613.8L1104.7,614.7L1108,611.7L1109.1,611.2L1111.2,614.3L1112.8,613.1L1115.6,612.4L1117.5,611.2L1119.1,607.8L1120.3,609.3L1121.1,610.7L1121.9,611.5L1125,610.6L1126.6,613.3L1128.9,612L1129.7,612.3L1130.9,613.5L1132.5,619.1L1134.1,616.2L1135.9,617L1137.2,615.8L1140.3,614.5L1142.2,616.2L1143.4,616.7L1144.5,616.8L1146.6,615.6L1148.1,619.3L1150.9,618.3L1152.4,617.4L1153.9,618.1L1155.5,617.8L1157.8,620.3L1159.4,621.5L1160.4,621L1161.7,621L1163.4,620.1L1163.8,620.2L1164.8,622.3L1166.1,618.5L1166.4,618.5L1167.9,619.2L1169.4,618.3L1171,618.1L1171,655.5L102.4,655.5Z" fill="#e08d8d"/>
<path d="M102.4,645.2L103.9,645.1L113.8,646.2L116.2,644.3L117.4,644.3L120.9,644.7L125.4,644.9L126.9,645.1L131.4,645.1L132.9,645.4L135.9,645.4L137.5,645.7L143.8,645.6L145.4,645.9L148.4,645.9L149.9,646.1L151.4,646L152.9,646.2L155,646.1L157.5,645.7L159.4,645.6L163.9,644.8L166.9,644L171.4,642.6L174.4,642.4L177.4,641.3L178.9,641.3L180,640.9L183.8,644.5L188.4,644.1L192.9,644L198.9,642.6L200.4,641.9L207.9,641.3L209.4,641.4L211.2,641.4L215.9,642.2L217.4,642.1L220.4,642.6L223.4,642.6L225.4,643L229.5,643.2L235.9,643.9L246.4,643.7L249.9,644L255,643.7L258.4,644L260.4,643.9L264.9,644.5L266.4,644.5L267.9,644.7L269.9,644.6L275,645.1L277.4,644.7L283.4,644.3L284.9,644.4L287.9,644.3L289.4,644.5L300,645L306.4,644.8L309.4,644.5L310.9,644.6L313.9,644.3L315,644.5L317.5,643L325,645L330.9,645.2L332.4,645.4L333.9,645.3L340,645.9L341.5,645.7L343.1,646L347.9,646L350.6,646.4L352.2,646.2L355.4,646.5L356.9,646.4L372.4,647.1L375.4,647.1L382.9,647.4L385.9,647.3L392.4,647.5L399.9,647.2L401.4,647.4L402.9,647.1L405.9,647.3L408.9,647.1L410.4,647.2L412.4,647L420,647L435,648.8L441.2,648.9L471.9,649.2L479.4,649.5L537.9,649.5L586.9,648.7L588.4,648.4L601.9,647.4L603.8,647.5L612.9,647.2L623.4,647.3L626.5,647L635.9,647.1L637.4,647L638.9,647.3L643.4,647L645.4,647.2L648.1,647.1L649.9,647.3L658.9,647.5L664.9,647.4L667.9,647.1L674.4,647.2L678.4,646.8L680.4,647L690.9,646.7L694.2,647L701.9,647.3L706.4,647.3L707.9,647.5L712.5,647.6L718.8,647.4L720.4,647.5L723.4,647.4L724.9,647.6L726.4,647.5L732.4,647.6L735.4,647.4L743.2,647.5L744.9,647.3L755.4,647.7L770.9,648.8L780,649.1L781.4,649L788.9,649.3L790.9,649.1L801.4,649.6L802.9,649.5L815.4,649.9L855,650.5L860,649.2L881.2,649.3L888.8,649.2L890.4,649.3L895,649.2L898.8,651.9L899.5,652L900.5,649.3L935.9,649.2L950,649.5L960,648L965.4,646.6L968.4,646.3L980.9,646.3L982.4,646.2L986.9,646.4L990,646.2L994.9,646.4L997.9,646.2L1003.1,645.3L1005.5,643.7L1007.8,644.8L1008.4,644.9L1009.9,644.9L1011.4,645.1L1014.4,645.1L1018.8,645.3L1025.3,644.2L1027.8,644L1029.7,645.1L1031.4,645.4L1034.5,645.4L1036.2,645.7L1057.4,644.6L1060.4,644.9L1063.4,644.8L1065,644.6L1066.9,644.7L1069.9,644.4L1071.1,644.5L1072.7,646.3L1074.4,646.5L1078.1,647L1084.4,646.5L1086.7,646.4L1090.6,646.7L1096.9,647.8L1105,647.7L1109.7,647.5L1110.9,647.6L1112.8,647.2L1117.4,647.3L1118.8,647.2L1127.9,648.1L1132.8,648.8L1140.3,648.4L1148.1,648.6L1152.4,648.4L1171,649L1171,655.5L102.4,655.5Z" fill="#97cfe4"/>
<rect x="102.4" y="653.7" width="1068.6" height="1.8" fill="#4ab2d8"/>
<g fill="none" stroke-width="1.6" stroke-linejoin="miter" stroke-miterlimit="3"><path d="M102.4,645.2L103.9,645.1L113.8,646.2L116.2,644.3L117.4,644.3L120.9,644.7L125.4,644.9L126.9,645.1L131.4,645.1L132.9,645.4L135.9,645.4L137.5,645.7L143.8,645.6L145.4,645.9L148.4,645.9L149.9,646.1L151.4,646L152.9,646.2L155,646.1L157.5,645.7L159.4,645.6L163.9,644.8L166.9,644L171.4,642.6L174.4,642.4L177.4,641.3L178.9,641.3L180,640.9L183.8,644.5L188.4,644.1L192.9,644L198.9,642.6L200.4,641.9L207.9,641.3L209.4,641.4L211.2,641.4L215.9,642.2L217.4,642.1L220.4,642.6L223.4,642.6L225.4,643L229.5,643.2L235.9,643.9L246.4,643.7L249.9,644L255,643.7L258.4,644L260.4,643.9L264.9,644.5L266.4,644.5L267.9,644.7L269.9,644.6L275,645.1L277.4,644.7L283.4,644.3L284.9,644.4L287.9,644.3L289.4,644.5L300,645L306.4,644.8L309.4,644.5L310.9,644.6L313.9,644.3L315,644.5L317.5,643L325,645L330.9,645.2L332.4,645.4L333.9,645.3L340,645.9L341.5,645.7L343.1,646L347.9,646L350.6,646.4L352.2,646.2L355.4,646.5L356.9,646.4L372.4,647.1L375.4,647.1L382.9,647.4L385.9,647.3L392.4,647.5L399.9,647.2L401.4,647.4L402.9,647.1L405.9,647.3L408.9,647.1L410.4,647.2L412.4,647L420,647L435,648.8L441.2,648.9L471.9,649.2L479.4,649.5L537.9,649.5L586.9,648.7L588.4,648.4L601.9,647.4L603.8,647.5L612.9,647.2L623.4,647.3L626.5,647L635.9,647.1L637.4,647L638.9,647.3L643.4,647L645.4,647.2L648.1,647.1L649.9,647.3L658.9,647.5L664.9,647.4L667.9,647.1L674.4,647.2L678.4,646.8L680.4,647L690.9,646.7L694.2,647L701.9,647.3L706.4,647.3L707.9,647.5L712.5,647.6L718.8,647.4L720.4,647.5L723.4,647.4L724.9,647.6L726.4,647.5L732.4,647.6L735.4,647.4L743.2,647.5L744.9,647.3L755.4,647.7L770.9,648.8L780,649.1L781.4,649L788.9,649.3L790.9,649.1L801.4,649.6L802.9,649.5L815.4,649.9L855,650.5L860,649.2L881.2,649.3L888.8,649.2L890.4,649.3L895,649.2L898.8,651.9L899.5,652L900.5,649.3L935.9,649.2L950,649.5L960,648L965.4,646.6L968.4,646.3L980.9,646.3L982.4,646.2L986.9,646.4L990,646.2L994.9,646.4L997.9,646.2L1003.1,645.3L1005.5,643.7L1007.8,644.8L1008.4,644.9L1009.9,644.9L1011.4,645.1L1014.4,645.1L1018.8,645.3L1025.3,644.2L1027.8,644L1029.7,645.1L1031.4,645.4L1034.5,645.4L1036.2,645.7L1057.4,644.6L1060.4,644.9L1063.4,644.8L1065,644.6L1066.9,644.7L1069.9,644.4L1071.1,644.5L1072.7,646.3L1074.4,646.5L1078.1,647L1084.4,646.5L1086.7,646.4L1090.6,646.7L1096.9,647.8L1105,647.7L1109.7,647.5L1110.9,647.6L1112.8,647.2L1117.4,647.3L1118.8,647.2L1127.9,648.1L1132.8,648.8L1140.3,648.4L1148.1,648.6L1152.4,648.4L1171,649" stroke="#45aed6"/>
<path d="M102.4,630.1L106.2,635L106.9,634.8L108.8,634.9L112.5,634.5L116.2,629.8L117.9,629.5L120.9,630.1L122.4,629.9L125,629L128.4,629L131.4,629.6L132.5,629.4L136.2,632.2L137.5,632.6L138.9,632.4L140.9,631.8L145.4,632.3L146.9,632.1L148.4,632.2L155,633L158,629.3L160.4,629.3L162.4,628.6L163.9,628.3L166.9,626.7L168.8,624.6L169.9,624.2L171.4,624.4L174.4,625.3L175,625L175.9,624.1L177.4,623L178.9,623.2L180,622.3L183.8,625.3L184.9,623.7L187,621.5L188.4,621.7L190.5,622.9L191.4,622.7L192.9,622.9L194.4,621.8L198.9,621.1L200.4,620L203.4,619.5L205,618.6L207.9,617.4L209.9,617.6L211.2,616.9L214.5,614.6L215.9,615.7L217.5,617.7L222.5,620L224.9,619.1L226.4,618.3L228.4,618.2L229.5,617.7L232.5,617.2L234.4,617.5L235,617.4L235.9,617L238.9,616.2L240,615.6L241.9,617.5L243.8,618.8L247.9,617.8L249.4,618L250,617.9L253,614.9L254.4,615.9L257,616.9L260,622.9L261.9,623.5L263.4,623.6L264.9,624L266.4,624.1L267.5,624.5L275,623.8L278.4,622.5L280.4,622.2L282.5,621.4L284.9,622.6L287.5,623.4L287.9,623.4L289.4,624L290.9,623.3L292.5,623.6L295.4,624L300,623.4L305,623.7L308.9,622.2L310.9,622.1L312.4,620.8L313.9,620.5L315.5,620.5L317,614.6L318.4,615L320,615.9L321.2,616L323.1,615.4L324.9,615.3L325.9,615L326.4,614.7L327.5,613.3L327.9,613.3L329.4,614.9L330.9,616L332.5,616.1L333.9,615.9L335.4,616.2L336.9,615.3L338.4,615.3L340,614.9L341.5,613.8L343.1,615.6L344.4,616.1L347.5,618.1L350.6,618.8L352.5,619.5L355.4,618L356.2,616.9L356.9,616.9L358.4,618.2L359.9,618.8L361.4,620.6L364.9,620.3L367.4,620.4L371.9,620L373.9,620.3L375.4,619.6L376.5,619.4L378.4,619.6L379.9,620.4L381.4,620.4L383.8,620.7L385.9,623.4L388.9,625.8L390.5,626.6L391.2,627.3L392.4,626.9L395.4,624.6L398.1,623.9L399.9,622.9L401.2,622.5L402.9,622.5L404.4,621.7L405.9,621.4L407.5,622.2L408.9,621.1L412.4,621L416.2,621.5L420,623.7L421.2,622.8L422.9,623L425,622.8L427.4,623.8L428.8,624.7L431.2,627.4L434.5,632.4L438.8,630.6L441.2,630.6L445,629.3L448.9,629.8L453.8,630.6L459.4,629.9L460.9,630L462.5,629.5L463.8,628.7L465.9,629.2L470.4,631L479.4,631.6L482.4,631.3L485.4,632L487.4,631.6L488.9,631.7L490,631.9L493.4,631.2L494.9,631.3L496.4,630.8L497.9,630.8L499.4,630.5L501.2,630.7L505.5,628.3L507,628.6L508.8,628.6L510,628.9L511.9,628.2L513.4,628.4L515,628.2L516.4,628.2L519.4,629.1L520.9,629.2L522.5,630L523.9,630.3L525.4,630.3L530,631.5L534.9,629.9L536.4,629.6L539.4,629.5L540,629.2L542.5,626.6L543.9,627.2L545.4,627.2L546.2,627.8L548.4,627.1L549.9,627.1L551.2,626.7L552.9,626.9L555,628.1L555.9,628.3L557.9,628.3L560,628.6L560.9,628.4L562.4,628.5L563.9,627.8L565.4,627.9L566.2,627.6L569.9,628.7L571.4,628.6L574.4,629.3L575.5,629.3L578,624.8L581.9,622.1L582.4,622L584.2,621.9L586.9,624.9L587.5,625.1L588.4,624.4L589.9,625.3L591.4,625.3L594.4,624.1L595.9,624.2L596.4,624L597.5,623.6L600.5,621.4L601.2,620.6L601.9,620.3L606.2,620.3L608.8,615.7L609.9,615.3L611.4,614.2L612.9,613.6L614.4,614.7L615.9,613.9L617.5,613.9L618.9,612.2L620.5,611.8L622,610.1L622.5,609.7L623.4,610.8L625,611.9L626.2,613.3L628.4,615.1L630,615.7L632.9,614.8L635,613.3L638.9,613.4L640,613.9L640.5,614.7L641.9,615.6L643.8,618.1L644.9,618.9L646.4,619.1L647.5,619.7L649.4,619.7L651.2,619.4L655.9,619.7L657.4,619.5L658.9,618.7L661.2,618.7L663.4,617.6L664.9,615.2L665.2,615.1L666.9,615.5L667.9,615.3L669.4,616.3L669.9,616.4L671.2,616L672.9,616.2L675.4,617.1L675.9,617.2L677.5,616.8L678.4,617L678.9,617.2L680.4,619.5L682,620L683.4,619.4L685,618.4L686.4,617.9L690,617.6L693.9,617.9L695.6,617.5L698.8,618.2L701.9,617.8L705,617.8L707.9,618.5L708.8,618.3L709.4,618.9L711,621.4L712.5,624.3L715.4,626.1L716.2,626.3L716.9,626.2L718.8,627.2L720.4,627.3L721.9,627.9L723.4,627.5L724.9,627.4L726.4,627.1L727.9,627.3L729.4,626.7L731.2,626.9L737,626L738.8,625.5L740,625.6L743.8,623.7L746.2,627.7L747.9,627.3L749.4,627.8L751.2,627.8L752.4,628.1L753.9,629L755.4,629.2L756.8,629.9L761.9,629.7L762.5,629.8L763,630.3L764.9,630.6L766.2,631.4L767.5,631.8L770.9,631.6L772.4,631.3L773.9,630.6L775.4,630.8L776.9,631.2L778.4,631.2L780,631.6L781.4,630.7L783.2,630.8L787.5,629.4L795.4,630.8L798.4,631.6L799.9,631.2L801.4,631.6L802.9,631.6L804.5,632.2L805.9,632.2L807.8,632.9L812,633.3L813.8,633.8L816.8,633.2L818.2,632.7L819.9,632.6L821.4,632.3L822.9,633L824.4,632.2L825.9,632.7L827.5,632.8L828.9,632.4L830.7,631.2L831.9,631.3L833.8,629.6L834.9,630.2L835.4,630.3L836.9,629.8L838.8,629.6L841.2,630.6L842.9,630.8L843.8,630.5L844.4,629.9L845.9,629.9L847.5,628.8L848.9,629.1L850.4,630.3L851.9,630.7L852.5,631.1L853.4,630.9L855.8,630L858,625.1L860,621.7L861.2,622.9L863.8,624.4L865.9,623.9L867.5,622.5L868.9,622.8L872.5,624.4L877.5,622L879.5,622.2L882.5,623.3L884.4,621.8L887.5,620.5L888.9,621.1L890.4,621.4L891.9,620.9L892.5,621.1L893.4,620.8L895,619.4L897.5,618.6L899.5,626.4L901.2,621.6L903.9,617.8L905.5,616.3L908,612.6L910,617.6L913.8,620.3L914.9,620.6L916.4,620.5L917.9,621.3L918.8,621.3L919.9,620.7L922.5,620.6L925,623.6L925.8,623L927.4,622.6L928.8,621.6L933.8,622.1L936.4,620.6L937.9,620.9L942,616.8L943.9,619.8L945,621L947,619.4L948.8,618.8L951.4,615.5L952.5,613.5L953,613.1L953.4,613L954.9,613.5L956.2,612.6L957.5,612.2L959.4,611.1L961.2,610.5L962.4,609.2L963.9,606.5L965,605.1L967,602.8L968.8,601.6L969.9,603.2L971.4,604.3L972.5,605.9L974.4,604.7L974.9,604.1L976.2,601.6L977.9,602.3L978.9,602.4L979.4,602.4L980.9,601.3L985.4,601.9L986.2,601.2L986.9,601.2L988.4,603.2L990,603.8L991.8,602.6L996.2,597.7L998.8,589.3L1000,587.5L1001.9,593.4L1003.4,590.2L1003.9,589.6L1005.5,586.1L1007,589.5L1009.9,588.6L1011.4,590.3L1013,589.9L1014.4,591.3L1016.2,592.4L1017.5,592.8L1018.4,584.4L1019.5,578.8L1020.9,583L1022.7,584.7L1023.8,591.3L1025.3,590.1L1027.3,590.8L1029.7,591L1031.4,592.6L1034.5,594.3L1034.7,594.4L1036.7,589.6L1037.5,589.7L1038.8,590.3L1040.9,589.2L1042,589.7L1043,589.5L1043.8,588.8L1045.3,588.1L1046.9,584.5L1048.4,588.4L1049.7,585L1051.6,581.1L1052.9,580.2L1053.9,580.3L1057.4,585.1L1057.8,586.1L1058.9,585.9L1060.4,584.2L1062,585.3L1064.8,584.5L1066.4,590.2L1068.4,594.3L1071.2,597.6L1072.9,598L1075.5,599.6L1075.9,599.6L1077.3,598.4L1078.9,600.7L1080.5,595.4L1082,593.1L1083.8,594.8L1086.7,594.8L1088.3,592.7L1089.8,598L1091.4,599.8L1093,603L1094.2,609.9L1095.6,615.1L1096.9,611.8L1097.4,611.2L1098.8,608.6L1100.3,611.8L1102.3,613.8L1104.7,614.7L1108,611.7L1109.1,611.2L1111.2,614.3L1112.8,613.1L1115.6,612.4L1117.5,611.2L1119.1,607.8L1120.3,609.3L1121.1,610.7L1121.9,611.5L1125,610.6L1126.6,613.3L1128.9,612L1129.7,612.3L1130.9,613.5L1132.5,619.1L1134.1,616.2L1135.9,617L1137.2,615.8L1140.3,614.5L1142.2,616.2L1143.4,616.7L1144.5,616.8L1146.6,615.6L1148.1,619.3L1150.9,618.3L1152.4,617.4L1153.9,618.1L1155.5,617.8L1157.8,620.3L1159.4,621.5L1160.4,621L1161.7,621L1163.4,620.1L1163.8,620.2L1164.8,622.3L1166.1,618.5L1166.4,618.5L1167.9,619.2L1169.4,618.3L1171,618.1" stroke="#e04e4e"/>
<path d="M102.4,607.8L105,613.5L105.4,613.4L106.9,614.3L108.4,614.2L108.8,614.4L109.9,614L110.4,613.7L112.5,611.7L114.9,607.6L116.2,604.8L117.4,605.8L117.9,606L119.4,605.4L120,605.8L120.9,605.7L122.4,604.3L123.9,603.6L125,602.7L125.4,602.8L126.9,604.1L128.8,605.3L131.4,606.1L132.5,605.7L136.2,609.8L137.5,610.8L137.9,610.8L139.4,610L140,610L140.9,609.7L142.4,608.4L143.8,608.4L145.4,609.7L146.9,610L147.5,610.7L148.4,611.2L149.9,610.9L151.4,609.5L152.9,610.1L155,611.4L155.9,610L158,605.2L161.2,606L165,603.3L166.9,601.2L168,598.9L169.9,596L171.2,595.9L172.9,597.4L174.4,597.7L174.9,597.5L176.4,595.2L177.4,594.2L178.9,593.4L180,591.7L181.9,594.2L183.8,597.1L186.8,588.8L188.4,591.4L190.5,594.1L191.4,593.8L192.9,594.2L194.4,592.6L195.9,591.8L198,590.2L198.9,590.2L200.4,590.8L201.2,590.3L201.9,589L203.8,586.6L205,584.4L206.4,583.6L208.4,582.2L209.4,582.2L209.9,582L212.9,578L214.5,577.4L217.5,584L218.9,583.4L220.5,583.4L221.9,586.6L223,588.3L224.9,585.7L226.2,584.5L227.9,585.9L228.4,585.9L230.9,584.2L231.2,583.9L232.5,581.2L232.9,581.2L234.4,582.5L236.2,582.4L237.4,580.9L238.9,580.1L240,577.6L240.4,578L243.8,584.8L244.9,584.6L247.9,582.9L249.4,583.5L249.9,583.3L253,577.1L254.4,578.1L257,580.9L258.9,588.9L260,594.8L261.9,595.7L263.4,595L264.9,595.2L266.4,594.8L267.9,596L269.4,594.6L270.9,594.5L272.5,593.4L273.9,593.7L275.4,593.6L276.9,592.8L277.5,592.8L278.4,592.5L280,591.6L281.9,588.5L282.5,588.3L283.4,589.7L284.4,590.6L286.4,592L289.2,594.4L290.9,594L292.5,594.2L293.9,593.2L296.9,594.4L297.5,594.3L300,592.7L301.2,592.3L301.9,592.5L303.4,593.5L305,593.7L306.4,593L307.9,590.8L308.8,591L309.4,590.5L312.5,584.9L313.9,585.3L314.5,585.7L316.5,564.6L317,565L318.4,565.6L320,567.3L321.4,567.1L323.1,567.2L323.8,566.9L324.9,565.7L326.4,563.7L327.5,561.6L327.9,562.1L329.4,565.8L330.4,567.6L330.9,568.4L331.2,568.4L332.4,566.7L333.9,566.4L336.9,565.5L338.4,565.9L340,562.1L341.2,562.8L343.1,566L344.4,566.4L346.2,570.2L348.8,571.8L349.4,572.5L350.6,572.9L352.2,577.4L352.5,577.6L353.9,574.6L356.2,571.7L356.9,572.4L359.9,574.8L361.2,577L361.9,575.9L362.9,573.4L363.4,573.5L364.5,574.4L365,573.6L365.9,573.5L368.8,576.5L369.4,576.4L370.6,575.7L372.5,576.6L373.4,576.5L373.9,576.2L375.4,574.3L376.2,573.8L376.9,574L378.4,573.1L379.9,574.5L381.4,574.8L382.9,576.4L383.8,577.9L384.4,581.2L385.9,584.3L387,587.3L387.5,587.5L390.5,591.4L391.9,589.7L393.8,585.5L395,586.1L395.4,586L396.4,585.3L396.9,585.1L397.5,585.3L398.1,584.8L399.9,580.3L401.2,578.9L402.9,579L404.4,575.3L405,575.3L407.5,578.9L408.8,578.8L412.5,576.2L416.9,580.8L417.9,582.3L418.4,582.7L421.2,581.2L422.9,581L424.4,580.1L425,580.1L425.9,581.3L427.4,582.2L431.2,589L433,596.7L434.5,606.2L436.4,604.4L437,603.5L439.4,603.4L440,603.7L441.2,603.5L442.5,602.5L445.5,598.2L447.4,600.1L448.8,602.4L451.9,601.3L453.4,600.9L453.8,600.9L455,601.6L456.4,601L456.9,600.9L457.9,600.9L459.4,601.4L459.9,601.3L461.4,598.3L462.5,596.8L462.9,596.8L464.4,596.1L466.2,596.5L468.8,602.8L469.2,603.5L470.4,602.8L471.9,603.2L473,603L473.4,603.2L474.9,603.3L476.2,605L478,601L479.4,601.8L482.4,604.3L484.2,607.1L485.4,606.2L488.4,604.4L491.9,603.2L493.4,603L495,601.9L496.4,602.6L498,604.3L499.4,604.3L501.2,604L504.5,597.8L505.5,596.4L507,596L507.5,595.4L508.4,595.3L508.8,595.5L510,597.4L510.4,597.2L511.9,595.8L514.9,595.1L517,593.8L519.4,594.9L520,594.9L520.9,596.1L523.2,601.1L523.9,601.6L526.2,602.4L528.8,601.1L531.4,600.9L533.4,601.2L533.8,601.1L534.9,600.3L535.9,600.1L537.9,600.5L539.4,600L540.5,599.8L542.5,591.2L545,594.7L545.4,594.3L546.9,594L548.4,592.4L549.9,592.1L551.2,590.3L554.2,594.3L554.9,594.7L556.2,595L557.5,596.4L559.4,597.1L560,597.6L560.9,597.2L563.9,594.6L565.4,593.8L566.2,591.9L566.9,591.5L568.4,593.4L570,595.9L571.4,595.9L572.9,597L573.8,597.3L574.4,597.7L575.8,598L577.5,582.4L579.4,576.4L580.5,573.6L582.4,571.2L583.8,570.6L585.4,573.4L586.9,577.2L588.4,578.5L588.8,580.1L589.9,582.6L591.4,579.8L592,579.4L594.4,576.2L594.9,575.8L595.5,575.5L595.9,575.9L597.5,576.7L598,577.3L600.5,562.9L603.8,563.4L605.4,562.7L606.8,562.6L608.8,542L609.9,541.5L611.4,538.2L612.9,539.6L614.5,540L615.9,543.2L617.5,543.2L618.9,540.1L620,536.9L622,527.2L624.5,523.2L626.9,535.8L629.5,546.7L632,538.3L634.4,533.3L637.4,525.3L638,525.2L638.9,529.2L640.5,531.3L642.2,538.9L644.9,548.1L645.5,549.7L646.4,550.7L646.9,551.7L648,554.7L651.2,551L652.9,554L654.5,556.1L657.5,552.7L658.9,551.7L660.8,553.6L661.9,550.4L663.8,543.6L666.2,535.8L668.8,535.1L671.2,541.8L673.8,547.3L675.4,549L675.9,549.2L677.5,548.9L678.9,551.3L680.4,556.4L681.9,558.7L682,559.3L683.4,557.7L684.5,553.9L687,546.7L687.9,548.2L689.5,552.7L690.9,551.3L691.2,551.3L692.5,552.6L692.9,552.3L695.8,547.7L697.4,551.6L698.8,552.3L701.4,554.1L705,556.8L706.4,553.5L708.2,548.2L710.8,558.8L713.2,574L714.4,576L715.9,578.1L716.9,579.2L717.4,579.5L718.8,579.7L720,581.7L721.9,581.2L722.9,580.2L723.8,579.7L724.9,580.5L726.4,580.6L727.5,581.3L727.9,581.2L729.4,579.7L730.9,580.2L733.9,580.2L735,578.9L735.4,578.6L735.9,578.6L737,578.9L740,581L741.2,583L741.9,582.4L743.2,579.9L743.8,579.6L746.2,589.3L747.9,592.7L750.9,599.8L751.2,600.2L752.4,596.5L753.8,593.9L753.9,594.2L755.4,595.6L756.8,598.7L759.5,597.2L763,601.3L763.4,601.4L764.4,601.3L764.9,601.7L766.2,604L767.9,604.5L769.4,606L771.2,605.9L774.5,603.6L776.9,604L777.5,603.8L778.4,601.9L780,600.2L781.4,601.8L782.5,604.1L782.9,604L785,602.2L785.9,601.2L787.5,598.2L787.9,597.9L788.9,599.9L789.4,600.3L790.4,599.5L790.9,599.3L793.8,601.2L795.4,602L796.9,602.4L798,603.3L800,600.2L802.5,604.2L802.9,604L805,603.6L807.4,606.2L808.9,607.1L811.2,610.1L813.8,605.7L815.8,608.6L818.2,602.6L819.9,605.3L821.4,605.8L822.9,608.4L823.8,608.5L824.5,607.6L827,605.5L827.5,605.5L828.9,606.8L830,607.2L830.7,605.7L831.9,604.2L833.4,600.8L833.8,600.5L834.9,601.6L835.4,601.6L836.9,599.9L838.8,597L839.9,597.7L841.4,599.9L844.5,602.6L845.9,601L847,598.9L848.9,599.5L850.4,602.3L853.8,602.4L855.8,600.1L857.5,590L859.5,581.5L859.9,580.9L861.2,580.1L862.9,576.4L863.9,576.3L864.5,575.8L865.9,577.6L867,580.2L867.4,579.7L868.9,576.3L869.5,575.8L870.4,577.5L871.9,578.9L872.5,579.8L873.4,579.6L876.4,575.2L878,574.1L880,576.9L881.2,575.5L882.5,575.1L883,574.5L884.4,570.5L885.4,569.4L886.2,567.8L887.4,568.6L888.8,570.3L890.4,574.8L891.2,574.7L891.9,572.8L893.4,571.5L894.5,570L896.4,567.9L897.5,566.9L900,579.6L900.9,577.9L902.5,571.5L903.9,568.3L905.5,563.5L906.9,557L908,552.9L908.8,557.5L911.9,569.4L912.5,570.9L913.4,571L915.5,573.1L916.4,573.2L917.9,572.3L918.8,572.1L921.2,569.2L925.8,582.4L928,575.7L928.8,576.4L929.9,579.2L930.4,579.9L931.2,579.1L931.9,578.1L933.4,577.5L934.9,577.4L936.4,575.8L937.5,576.2L937.9,576.1L939.4,574.8L940,574.2L942,569.4L942.4,570.1L943.9,575.1L944.5,576.1L945.9,574.8L947,574.2L947.5,574.2L951.4,561.9L952.5,557.6L953.4,556.1L954.5,555.1L955,554.7L956.2,554.3L957.5,553L959.4,549.2L960,548.4L962,540L962.4,540L963.9,537.4L965,537.2L967.5,525.8L968.8,522.6L970.4,529.3L971.9,533.9L973.8,541.7L974.9,538.3L977.5,528.1L977.9,526.9L978.9,525.8L979.5,524.7L980.9,527.5L982.4,532.8L982.5,532.9L983.9,532.7L985,534.1L985.4,535.8L986.9,539.4L987.5,542.4L988.8,545.9L990,541.5L991.2,538.3L992.9,541.7L993.8,543.1L996.2,530.1L998.8,511.1L1000,505.4L1001.9,516.3L1003.4,504.8L1003.9,503.1L1005.5,494.3L1007,501.3L1008.6,503.3L1010,504.4L1010.6,506L1011.4,509.3L1012.5,511.4L1013,511.8L1014.1,514.9L1014.4,515L1015.6,514.3L1016.2,515.7L1017.5,516.8L1018.4,493.5L1019.5,484.2L1020.9,490.8L1021.1,491.4L1022.2,493.1L1023.4,509.5L1024.2,514.8L1025.3,511.5L1026.9,513.9L1028.4,511.6L1030,516.6L1032.9,520.1L1034.7,520.2L1036.2,513L1037.8,507.1L1038.9,509.7L1039.4,510.3L1040.5,508.8L1040.9,508.6L1043,508.2L1043.8,509.2L1045,510.4L1046.6,504.9L1048.1,511.9L1051.2,495.9L1051.4,496L1052.8,495.3L1054.4,498.2L1055.9,498.3L1056.6,497.8L1057.4,499.3L1058.1,501.5L1058.9,499.7L1059.7,498.8L1060.4,501.3L1061.2,502.6L1062.5,497L1063.4,497.5L1064.4,498.4L1066.9,518.4L1068.4,521.7L1069.5,523.3L1071.2,525.4L1071.6,526.1L1073.1,524L1074.7,525.2L1075.9,524.1L1076.2,524.3L1078.9,529.4L1082,512.6L1083.8,515.9L1084.1,516.3L1085,516.9L1085.9,517.1L1086.7,515.5L1087.8,514.4L1088.3,516.1L1089.4,518.4L1089.8,517.3L1090.9,516.5L1091.2,517.6L1092.2,518.8L1093.3,527.9L1094.2,553.7L1095.6,568.1L1096.9,559.6L1097.4,558.4L1098.8,556.5L1101.9,565.1L1103.4,565.7L1105,568.6L1108.1,561.1L1109.7,559.8L1111.2,565.8L1112.4,562.3L1112.8,561.5L1114.4,564.6L1117.5,558.8L1118.8,550.3L1120.3,556.4L1121.6,559.9L1123.4,558.6L1125,556.6L1126.6,565.1L1128.1,562.9L1129.7,561.4L1131.2,567.3L1132.5,575.2L1134.1,574.9L1135.6,579.7L1137.2,576L1138.8,573.6L1140.3,572.2L1141.9,575.9L1143.4,578.6L1145.3,577.8L1146.6,574.2L1148.1,581.9L1149.4,581.5L1150.9,581.6L1152.4,578.5L1153.9,577.1L1154.7,576.8L1157.8,584L1158.8,585.4L1159.4,586L1160.9,584.7L1162.5,580.9L1163.8,583.9L1164.8,581.1L1166.1,582.5L1167.2,580.5L1167.9,581.6L1168.8,581.2L1169.4,580.3L1171,581.3" stroke="#d54e8e"/>
<path d="M102.4,607.3L105,613L105.4,612.9L106.9,613.8L108.4,613.7L108.8,613.9L109.9,613.5L110.4,613.2L112.5,611.2L114.9,607.1L116.2,604.3L117.4,605.3L117.9,605.5L119.4,604.9L120,605.3L120.9,605.2L122.4,603.8L123.9,603.1L125,602.2L125.4,602.3L126.9,603.6L128.8,604.8L131.4,605.6L132.5,605.2L136.2,609.3L137.5,610.3L137.9,610.3L139.4,609.5L140,609.5L140.9,609.2L142.4,607.9L143.8,607.9L145.4,609.2L146.9,609.5L147.5,610.2L148.4,610.7L149.9,610.4L151.4,609L152.9,609.6L155,610.9L155.9,609.5L158,604.7L161.2,605.5L165,602.8L166.9,600.7L168,598.4L169.9,595.5L171.2,595.4L172.9,596.9L174.4,597.2L174.9,597L176.4,594.7L177.4,593.7L178.9,592.9L180,591.2L181.9,593.7L183.8,596.6L186.8,588.3L188.4,590.9L190.5,593.6L191.4,593.3L192.9,593.7L194.4,592.1L195.9,591.3L198,589.7L198.9,589.7L200.4,590.3L201.2,589.8L201.9,588.5L203.8,586.1L205,583.9L206.4,583.1L208.4,581.7L209.4,581.7L209.9,581.5L212.9,577.5L214.5,576.9L217.5,583.5L218.9,582.9L220.5,582.9L221.9,586.1L223,587.8L224.9,585.2L226.2,584L227.9,585.4L228.4,585.4L230.9,583.7L231.2,583.4L232.5,580.7L232.9,580.7L234.4,582L236.2,581.9L237.4,580.4L238.9,579.6L240,577.1L240.4,577.5L243.8,584.3L244.9,584.1L247.9,582.4L249.4,583L249.9,582.8L253,576.6L254.4,577.6L257,580.4L258.9,588.4L260,594.3L261.9,595.2L263.4,594.5L264.9,594.7L266.4,594.3L267.9,595.5L269.4,594.1L270.9,594L272.5,592.9L273.9,593.2L275.4,593.1L276.9,592.3L277.5,592.3L278.4,592L280,591.1L281.9,588L282.5,587.8L283.4,589.2L284.4,590.1L286.4,591.5L289.2,593.9L290.9,593.5L292.5,593.7L293.9,592.7L296.9,593.9L297.5,593.8L300,592.2L301.2,591.8L301.9,592L303.4,593L305,593.2L306.4,592.5L307.9,590.3L308.8,590.5L309.4,590L312.5,584.4L313.9,584.8L314.5,585.2" stroke="#85838f" stroke-width="0.7" opacity="0.5"/>
<path d="M316.2,565.9L316.5,564.6L317.5,565.2L318.4,564.8L320,564.7L323.1,563.7L323.8,563.3L325.9,557.8L327.5,552.9L327.9,553.2L329.4,555.9L330.9,557.1L331.2,557L332.4,555.6L335.4,555.1L336.9,554.3L338.4,554.3L340,550.4L341.2,551.2L343.1,553.9L344.4,554.2L346.2,557.3L347.9,557.9L348.8,558.4L349.4,559.2L350.6,559.7L352.2,564.6L352.5,564.9L355,560.8L356.2,559.6L358.4,562.7L359.9,564.2L361.2,567L362.9,561.7L363.4,561.3L364.5,561.2L365.9,562L367.4,564.7L368.8,566.7L369.4,566.6L370.6,566L372.5,567.9L373.4,567.6L373.9,567.2L375.4,564.7L376.2,563.7L376.9,563.8L378.4,563.1L379.9,565L381.4,565.1L382.9,567.4L383.8,569.2L384.4,572.3L385.9,575.4L387,578.5L387.5,578.7L390.5,582.8L391.9,580.8L393.8,576.7L395,576.9L396.9,575.4L397.5,575.6L398.1,575.3L399.9,570.8L401.2,569.2L402.9,568.9L404.4,565.6L405,565.5L405.9,566.1L407.5,566.4L409.4,564.4L411.9,562.4L412.5,562.2L413.4,563.3L413.9,563.6L415,563.8L416.4,565L417.9,568L418.4,568.6L420,568L421.2,564.4L422.9,564.8L424.4,564.3L425,564.4L425.9,565.8L427.4,567.2L430.4,573.1L431.2,575.2L433,584.1L434.5,593.8L436.4,592.3L437,591.2L439.4,589.7L440,589.9L441.2,591.6L442.5,591.5L445.5,584L447.4,586.3L448.9,589.1L450.4,588.3L453.4,587.7L455,588.8L457.9,587.5L459.4,588.1L460,588L460.9,585.2L462.5,581.7L462.9,581.6L463.9,580.9L464.4,580.8L466.2,581.7L468.8,588.6L469.2,589.6L470.4,588.9L473,588.6L473.4,589L474.9,589.5L476.2,591.8L478,586.8L481.2,589.3L484.2,593.9L485.9,591.6L487.5,589.9L490.4,589.2L491.9,588.5L493.4,588.4L495,586.8L498,589.9L499.4,590.5L500.9,590.6L501.2,590.4L504.5,582.3L505.5,581L507,580.6L507.5,580.1L508.8,580.7L510,582.2L511.4,580.7L513,578.5L514.9,578.1L516.2,577.2L517,576.9L519.4,577.5L520,577.4L522.4,583.5L523.2,586.5L523.9,587.1L524.4,587.1L526.2,586.7L528.8,585.3L530.4,585.2L531.9,584.7L533.8,584.6L534.9,583.8L536.4,583.8L537.9,584.3L540.5,583.6L542.5,576.4L545,578.5L545.4,578.1L546.9,577.9L548.4,576L549.9,575.4L551.2,572.8L551.9,573.6L553.4,576.3L554.2,577.4L556.2,577.6L557.5,578L559.4,579L560,579.8L560.9,579.4L562.4,578L563.9,575.9L565.4,575.3L566.2,573.9L566.9,574L568.4,575.8L570,578.4L571.4,577.9L572.9,580L574.4,580.7L575.8,580.8L577.5,563.3L580.5,552.9L581.9,550.3L582.4,549.5L583.8,548.8L585,550.3L585.4,551L586.9,555.3L588.4,557L588.8,558.8L589.9,560.8L591.4,556.9L593,554.5L594.4,553.2L595.5,552.5L595.9,553.1L597.5,554L598,554.8L598.9,549.7L600.5,538.3L603.8,539.8L605.4,537.9L606.8,537.8L608.8,513.9L609.9,514.9L611.4,512.9L614.4,511.9L614.5,511.7L617.5,514.7L618.9,510.6L620,506.6L622,496.9L623.4,495L624.5,492.7L626.9,505.2L629.5,517.1L632,506.7L634.4,503.5L637.4,494.9L638,494.6L638.9,499L640.5,501.1L642.2,510L645.4,522L646.9,524.7L648,527.3L649.4,525.2L651.2,521.2L652.9,526.1L654.5,527.9L655.9,526.8L657.4,526.3L658.9,525.2L660.8,525.9L666.2,505.5L666.9,505L667.9,503.6L668.4,503.6L668.8,503.7L669.9,508.5L671.2,512.7L672.4,514.1L673.8,517.3L674.4,518.3L675.9,519.9L677.5,520.4L678.4,521.9L678.9,523L680.4,530.1L681.9,531.2L682,531.7L683.4,529.1L687,517L687.9,519.2L689.5,524.9L690.9,524.1L691.2,524.2L692.5,525L695.8,518.5L697.4,521.6L698.8,522L701.9,525.8L703.4,529.1L704.9,529.8L705,530.1L706.4,525.8L708.2,518.1L709.8,525.7L713.2,548.2L714.4,551L716.2,554.4L717.4,555.1L718.8,555.3L720,556.7L721.9,556L724.4,554.5L726.4,553.5L727.5,554.1L727.9,554.5L729.4,553.8L730.9,555.8L731.2,555.9L732.5,554.8L733.9,554.8L735,552.6L735.4,552.2L735.9,552.4L737,553.5L740,555.2L741.4,557.5L741.9,557L743.2,553.9L743.8,553.4L746.2,566.4L747.9,568.4L751.2,576.7L753.8,568.6L755.4,571L756.8,574.9L758.4,575.1L759.5,573.8L760,573.8L760.4,574.1L762.5,576.2L763.4,577.5L764.4,578.2L765,579.1L766.2,582.7L767.5,584.2L767.9,584.3L769.4,586.1L770.9,585.6L771.2,585.7L772.4,585.1L774.5,583L775.4,582.4L776.9,582.6L777.5,582.1L778.4,580.1L780,578.4L781.4,580.4L782.5,583L783.2,582.4L785,580.5L786.2,578.9L787.5,576.8L788,576.5L788.9,578.2L789.4,578.5L790.4,577.5L790.9,577.4L793.8,580.2L795.4,581.4L796.9,581.5L798,582.1L800,579.1L801.4,582.2L802.5,583.8L802.9,583.2L803.4,582.9L804.5,582.3L805,582.3L806.2,584.8L807.4,586.1L808.9,586.9L811.2,592.7L813.8,586.5L815.8,591.9L816.8,588.8L818.2,585.5L819.9,587.1L821.4,587.4L822.9,590.5L823.8,590.8L825.9,587.6L827,586.3L827.5,586.5L828.9,588L830,588.6L832.5,582L833.4,580.6L833.8,580.3L834.9,581.6L835.5,581.6L836.9,579.5L838.8,575.7L839.4,575.7L839.9,575.9L841.2,578.9L842,579.6L842.9,579.2L844.4,577.5L845.9,576.9L847,574.9L848.9,575.1L850.4,578.3L850.9,578.4L851.9,578.2L853.8,578.8L855.8,576.2L857.5,562.3L858.2,558.3L859.5,549L859.9,548.6L861.2,550.1L862.9,544L863.9,542.6L864.5,541.2L865.9,543.5L867,546.1L868.9,542.5L869.5,541.8L870.4,543.3L871.9,544.8L872.5,546L873.4,545.9L875,542.4L876.4,540.7L878,536.5L879.5,541.3L880,542.3L881.2,539.1L883,536.4L884.4,533.1L885.4,531.7L886.2,529.9L887.4,530.1L888.8,531.5L890.4,536.5L891.2,537.2L891.9,535.4L894.5,531.2L896.4,530L897.5,527.9L898,529.5L900,540.5L901.2,537.1L902.5,531.1L905.5,521.9L908,510.4L908.8,515.4L910.4,521.1L911.9,529.3L912.5,531L913.4,531.2L915.5,532.8L917.9,531.6L919.4,533.2L921.2,531.7L923.8,537.5L925.8,546.3L926.9,541.3L928,537.8L929.9,540.1L930.4,540.4L931.2,540L931.9,539L933.4,537.6L934.9,538L936.4,535.4L937.5,536.6L937.9,536.6L940,532.5L942,526.3L943.9,533.6L944.4,534.4L944.5,534.5L945.4,532.3L945.9,532.1L947.5,532.7L950,522.5L951.4,518.3L952.5,511.9L953,510.2L953.4,509.4L954.5,508.8L956.2,506.5L957.5,505.4L960,499.3L962,488.6L963.8,480.9L965.4,478.5L966.2,477L968,463.2L968.8,461.3L969.5,460.2L970.4,464.9L971.9,471L973.8,480.8L974.9,478.5L976.2,473.6L977.5,465.8L977.9,464.2L978.8,463.9L979.4,464.1L980,463.4L980.9,467.3L982.4,471.4L983.9,472.3L985,475.2L985.4,477.3L986.9,482.6L988.8,491.1L991.2,476L992.9,481.7L993.8,483.7L994.9,476.4L996.2,470.5L998,450.9L1000,435.7L1000.9,439.7L1001.9,445.7L1005.5,418.3L1006.9,426.7L1008.6,431.7L1009.9,431.9L1010.6,432.7L1011.4,435.6L1013,438.4L1014.1,444.4L1014.4,445.2L1014.9,444.8L1015.6,443.5L1017.5,448.5L1018.4,417.9L1019.5,404.1L1021.1,414.4L1022.2,414.5L1024.2,443.7L1025.3,436.7L1026.9,440.5L1028.4,437.4L1030,442.5L1031.4,445.5L1032.9,446.9L1034.7,447.8L1036.2,439.6L1037.5,435.6L1037.8,435.3L1038.9,440.8L1039.4,441.1L1040.5,435.8L1040.9,435.4L1043.8,438.8L1045,439.1L1046.6,433.8L1048.1,439L1049.7,431.1L1051.2,417.6L1052.8,419.9L1054.4,421.6L1054.7,421.5L1055.9,422.6L1056.6,422.4L1057.4,423.9L1058.1,426L1058.9,422.8L1059.7,421.4L1060.4,424.2L1061.2,426.2L1062.5,422L1063.4,422L1063.8,422.3L1064.4,423.3L1065.6,433.7L1066.9,447.6L1068,452.3L1068.8,454.6L1069.5,455.9L1069.9,456.1L1070.3,455.7L1071.2,456.9L1071.6,458.6L1072.7,458.3L1073.1,457.8L1074.4,460.6L1074.7,460.4L1075.9,455.1L1076.2,455L1077.3,455.7L1078.9,458.8L1080.4,449.9L1082,438.5L1084.1,441.2L1085,441.2L1085.9,440.7L1086.7,439L1087.8,437.8L1088.3,439.9L1089.4,443.1L1089.8,441.8L1090.9,441.2L1091.2,443.4L1092.2,446.6L1093.3,455L1093.4,478.9L1094.5,494.7L1095.6,506.2L1096.9,494L1098.8,484.4L1101.9,498.5L1103.4,501.2L1105,504.9L1106.6,499.3L1108.1,495.6L1109.7,495.1L1111.2,503.6L1112.4,499.8L1112.8,499L1113.9,500L1114.4,500L1117.5,490.7L1118.8,481.6L1120.3,489.4L1121.6,493.7L1121.9,493.9L1126.6,501.9L1128.1,498.7L1129.7,496.8L1131.2,506.1L1132.5,519.8L1134.1,520L1135.6,526.4L1137.2,520.8L1138.8,519.2L1140.3,512.4L1141.9,517.6L1143.4,521.6L1144.9,521.7L1145.3,521.5L1146.4,519.7L1146.6,519.8L1148.1,530.9L1149.4,527.6L1150.9,531.2L1151.6,530.4L1153.1,526.7L1153.9,526L1154.7,526.1L1155.5,528.8L1156.2,530.6L1157.8,537L1158.8,539.9L1159.4,541.2L1160.9,539.4L1161.7,535.9L1162.5,534L1163.8,537L1164.8,531.3L1166.1,533.5L1167.2,531.7L1167.9,532.3L1169.4,529L1170.9,531.2L1171,531.1" stroke="#85838f"/>
<path d="M102.4,598.9L105,605.8L105.4,605.8L106.9,607L108.4,607.2L108.8,607.4L109.9,606.9L112.5,604.3L116.2,594.8L117.4,596.1L117.9,596.5L119.4,596L120,596.3L120.9,596L123.9,593.8L125,592.6L125.4,592.8L126.9,594.8L128.4,595.6L128.8,596L131.4,596.9L132.5,596.8L134.4,599.2L136.2,602.3L137.5,603.3L137.9,603.3L139.4,602.6L140,602.6L142.5,599.7L143.9,601.3L145.4,602.6L146.2,602.9L146.9,602.6L148.4,603.2L149.9,602.8L151.4,601.6L152.9,602L155,603.2L155.9,601.5L157.5,597.4L161.2,597.8L165,595.3L166.9,591.9L167.5,590.1L169.9,587.3L171.2,587.7L172.9,589.2L175,589L175.9,587.3L177.4,585L178.9,583.6L179.5,582.6L181.9,585.5L183.8,588.4L186.8,577.5L188.4,581.9L190,585.3L191.4,584.9L192.9,585.7L194.4,584.1L197.5,582.2L198.9,582.5L200,583L202.4,578.4L205,574.2L207.5,572.3L209.9,572.3L211.2,571.4L212.9,566L213.8,564.8L214.4,567.2L215.9,570.6L217,573.9L217.4,574.1L218.9,574.2L220,574.8L221.9,579.5L222.5,580.5L223.9,578.5L226.2,575.9L227.9,577.5L228.8,577.7L229.5,575.8L231.2,573.3L232,571.7L232.5,571.6L232.9,571.9L234.4,573.6L236.2,573.6L237.4,571.9L238.9,570.6L240,568.1L243.8,577.8L245.4,577.3L247.9,575.5L249.4,575.8L249.9,575.6L252.5,566.6L254.4,568.3L256.2,570.9L258.9,580.8L260,586L261.9,587.2L263.4,586.9L264.9,587.4L266.4,587.1L267.9,588.6L269.4,587L270.9,586.8L272.5,585.8L273.9,586L275.4,585.8L275.9,585.4L276.9,583.9L278.4,583.3L280,581.8L281.9,578.3L282.5,577.7L284.4,580.3L286.2,582.1L288.8,585.6L289.4,585.2L292.5,584.4L293.9,582.7L294.4,582.9L295.4,583.8L296.9,583.7L297.5,583.4L300,581.2L301.2,580.5L301.9,580.8L303.4,581.9L305,582.5L306.4,581.6L307.9,579.3L308.8,579.6L309.4,578.7L312,572.1L312.4,571.7L314.5,570.8L316.2,547.1L317,547.6L318.4,547.9L320,548.6L321.9,547.9L323.8,546.8L327.5,535.2L329.4,539.4L331.2,541.5L332.4,540.7L333.9,540.7L335,540.4L338.4,538.2L340,533.5L341.2,534.1L343.1,538.4L344.4,539.6L345,541.2L346.2,543.6L347.5,543.7L348.8,544L349.4,544.9L350.6,545.7L352.2,550.8L352.5,551.2L353.9,548.4L356.2,544.7L359.9,551.3L361.2,555.1L361.9,553.3L362.9,549.5L363.4,549.2L363.8,549.3L364.5,551.1L365.9,551L366.4,551.4L367.4,553L368.8,554.2L369.4,554.1L370.6,553.4L372.5,555.5L373.9,551.9L376.2,544.1L378.4,544.3L380,545.9L381.4,542.9L382.5,541.3L384.4,553.1L386.2,559L387.5,559.1L388.8,560.1L390.8,565.2L391.9,563.5L393.8,558.7L395,558.6L395.4,558.3L396.9,556.3L397.5,556.1L398.1,555.5L399.9,551.1L401.2,549.7L402.9,547.3L403.8,544.7L404.4,543.6L405.9,544.7L407.5,545.5L411.2,541.3L413.4,539.9L415,538.6L416.4,539.9L417.9,542.5L418.4,543L418.8,542.9L421.2,539L422.9,540.2L425,539.9L425.9,540.7L427.4,541.6L428.8,543.5L430.4,547.4L431.2,549.9L433,563.8L434.5,585L438.8,572.8L439.9,575.4L441.2,580L445,570.5L447.4,573.2L448.9,576.9L450.4,575.5L451.9,575L455,575.4L457.9,574.1L459.4,574.5L460,574.4L460.9,571.5L462.5,567.5L462.9,567.6L463.9,567.2L464.4,567.2L466.2,568.5L468.8,577.2L470.4,576.3L471.9,576.1L473,575.3L474.9,577.1L475.8,578.9L476.4,577.1L477.5,572.2L478,572.5L479.4,573.7L479.9,574.5L481.2,576.8L483.8,582.7L484.2,582.2L485.9,579.7L487.5,577.9L490.4,576.8L491.9,575.7L493.4,575.5L495,574L497.5,577.5L499.4,577.3L500.9,576.8L501.2,576.6L502.4,573.1L503.9,569.7L504.5,567.9L505.5,565.9L507,565.3L507.4,565.5L508.4,565.8L508.8,566L510,568.2L511.4,565.9L512.5,563.6L513,563L516.2,561L517.9,561.3L520,560.9L520.9,563.8L523,572.2L523.9,572.7L525.4,571.9L526.9,571.6L528.8,570.3L533.8,569.6L535.9,568.6L536.4,568.6L537.9,569.5L540.5,568.8L542,560.5L543.9,562.3L545,563.7L545.4,563.2L546.9,562.1L548.4,559.7L549.9,558.4L551.2,555.8L553.8,561.7L554.9,562L556.2,561.8L558.9,563.8L560,564.8L562.4,562.5L563.9,558.7L565.4,557.3L566.2,555.6L566.9,556.1L568.4,558L570,562L571.4,561.2L572.9,562.2L574.4,563L575.8,563L577.5,542.2L578.9,534.7L580,529.7L580.9,528.3L582.4,524.9L583.8,522.5L587.5,532.6L588.4,531.5L589.9,534.6L591.4,529.4L593,526.1L594.4,525.3L595,525.4L595.9,527.6L596.4,528L597.5,528L598,529L598.9,522.5L600,511.7L600.5,512L600.9,512.7L603,517.2L603.8,517L605,517.2L606.2,517.9L608.2,489.4L609.9,492.7L611.2,492L611.4,491.7L612.9,491.4L613.8,491L614.4,493.1L617,496.4L618.9,486.9L622.5,472.4L623.4,473.6L624.2,474.1L625,472.6L625.8,472.2L627,490.4L628.5,497.9L633,471.9L635.9,460.6L637.5,455.9L638.9,456.3L639.5,455.7L643,474.5L643.8,476.2L644.9,480L646.2,482.8L648.8,472.9L650.5,466.9L651.2,466.8L652.9,474.2L655.5,466L655.9,466.7L657.5,472L658.9,468.2L662.5,460.2L664.2,447.4L665.8,438.1L666.9,439.8L667.5,440.2L667.9,439.8L668.4,440.2L669.4,442.2L670,442.9L671.8,452.5L672.4,452.9L672.9,453.6L673.8,455.5L675,461.5L675.9,459.5L677.5,453.5L678.9,449.7L679.2,450.2L680.4,457.9L681.2,459.8L681.9,456.1L683.4,453.3L684.9,449.2L685.5,446.4L686.4,440.1L687,437.5L688.2,436.2L690,448.4L690.9,447.1L691.2,446.9L692.5,447.6L692.9,446.8L694.2,443.5L695.6,437.2L696.2,435.9L697.4,439.6L698,440.4L698.8,439.5L700,440.6L700.4,442L701.4,443.5L701.9,444.5L703.4,449.1L704.5,449.7L706.2,437.7L708.2,430.9L710,440.5L711,451.7L711.8,462L713.2,491.1L713.9,494.8L714.5,498L715.4,498.9L717.4,502.2L718.8,504L721.4,508.4L722.5,510.8L723.4,508.7L725,502.4L726.4,499.9L727.5,499L727.9,499.2L729.4,496.7L730.9,498.5L732.5,496.2L733.9,498.5L735.4,490L736.2,488.3L737,490.7L738.8,492.7L740,491.1L740.4,491.2L741.2,491.9L741.9,490.3L743.2,484.1L745,501.9L747.5,511.5L749.4,517.5L750,518.7L750.9,522L752,524.3L754.2,508.6L756.8,524.4L757.4,523.5L758.4,522.9L760,519.9L761.4,521.5L761.9,521.4L763,520L764.4,522.5L764.9,524.1L766.2,533.6L767,536.3L767.5,534.7L767.9,534L768.9,534.2L769.4,534.1L771.9,531L772.4,530.2L773,528.2L773.9,528.6L775.5,533.4L776.9,532.3L778.4,525.4L780,523.4L780.8,519.6L781.4,520.6L783.2,527L784.4,525.6L785.5,523.1L786.2,518.6L788,510.5L788.9,510.8L789.4,510.6L790.4,509.2L790.9,508.8L791.2,509L792.4,513.1L793.8,515.4L795.4,519.6L796.9,520.1L798.4,524.2L799.9,526.9L802,531.5L802.9,530.5L804.5,530.5L807,536.9L807.8,540.1L808.9,542.7L810,549.1L810.6,548.1L812,542.6L813.8,550.2L815.4,544.6L816.2,539.9L816.8,540.2L818.4,544.4L819.9,546.4L821.4,547.2L822.9,550.7L824.5,548.7L825.9,545L827.5,541.5L828.9,540.2L830,537.9L830.7,535L831.9,532L833,527.3L833.4,527.1L833.8,527.2L834.9,529.1L835.4,529.5L836.9,527.1L838,526.9L838.3,527.6L839.9,529.7L841.2,533.9L841.4,533.9L842.9,533.4L844.2,532.3L846.2,524.6L847.5,527.2L848.8,527.4L848.9,527.1L850.4,528L852.5,527.9L855,526.9L857,503.5L858.8,487.1L859.5,487.2L859.9,488.2L861.2,494.7L862.9,487.9L864.4,484.9L865.9,480.1L866.2,480L867.4,483.4L868,482.8L868.9,479.4L870,477.8L872,479.9L873.4,479.9L873.8,478.5L875,479.2L875.5,481.6L876.4,480.4L878,474.5L879.5,471.2L879.9,471.8L880.9,471.9L881.2,472.3L883,465.1L884.4,462.8L885,462.7L886.2,452L887.4,453.4L888.8,457.9L890.4,465.7L891.2,468.9L895,452L896.4,454.1L897,453.3L898,455.8L898.8,461.1L899.5,464.4L900.5,466.2L902.5,454.3L902.9,454.8L904.5,458.5L906.2,436L908,424.1L908.8,430.9L910,438.4L910.4,442.1L912,461.9L913.4,457.1L913.8,456.6L916.2,463.5L917.9,459.7L918.8,458.9L920.8,466.1L922.5,456.6L924.5,479.2L925.8,490.7L927.5,476.7L928.8,474.5L930.5,482.9L931.4,479.7L931.9,478.5L933.4,479.8L934.5,481.1L934.9,481.2L936.4,471.3L937,469.9L937.9,471L938.8,468.1L939.4,463.6L940,460.9L941.2,456.5L943,463.4L943.9,466L944.4,465.9L945,465L945.4,463.2L945.9,462.7L947,463L948.8,460.2L950.5,437.4L952,426.8L953.4,424L954.5,423.6L956.2,424.9L958,418.7L961.2,391.9L962.4,390.1L963.8,387.2L965.4,382.1L966.2,381L967.5,365.4L969.5,355.1L971.2,367.6L972.9,374.1L973.8,378.6L974.4,378.2L974.9,377.2L976.2,372.1L977.9,358.8L978.2,357.6L980,353.7L980.9,360.6L982,362.4L982.4,363.6L983.8,371.8L985.4,376L986.2,376.9L988,399.3L988.4,401.4L990,408.1L991.8,398.2L993.8,416.2L994.4,410.5L995.9,401.9L997.5,382.7L999.5,369.1L1000.9,379L1002.5,394.8L1004.2,377.9L1005.4,375.6L1006.9,374.2L1007.5,373.1L1008.4,365.8L1010,356.9L1011.4,357.1L1012,357.6L1013,362.6L1013.8,368.7L1014.4,371.1L1014.9,371L1015.5,370L1015.9,370.6L1017.5,378.3L1018.8,341.3L1020,324L1020.9,329.9L1022,334.1L1023.8,375.4L1026.9,367.1L1028.4,365.9L1028.8,365L1029.9,367.6L1031.4,373.8L1032.9,374.7L1034.5,376.9L1035.9,366.6L1037.5,359.1L1038.9,365.3L1039.4,364.7L1040.9,358.7L1042.5,355.1L1043.8,359.8L1044.2,360.3L1045.3,353L1046.2,350.1L1048,361.8L1051.2,331L1053,335.5L1054.5,332L1056.2,334.7L1058,336.1L1058.9,337.2L1060,341.8L1062,327.8L1063.4,331.5L1065,337.3L1066.2,359.6L1068,381L1069.5,384.3L1069.9,384.5L1070,384.4L1071.2,390.9L1073,384.5L1074.4,385.8L1075,385L1075.9,380.2L1076.8,378.5L1077.4,383.2L1078.2,386.3L1080,369.9L1081.8,358.9L1081.9,358.7L1082,358.8L1083.4,364.9L1083.8,365.5L1085,361.5L1085.5,360.6L1087.5,349.1L1088.3,352.3L1089.8,355L1090.9,359.7L1092.5,364.6L1093.4,399.9L1094.2,439.7L1095.3,455.3L1096.6,438.5L1097.7,429.1L1098.9,426.1L1100.4,437.1L1101.9,442.8L1105,453.4L1106.6,442.1L1107.8,436.1L1109.4,435.5L1110.9,446.5L1112.2,439.6L1112.4,439.3L1112.8,439.4L1113.6,441.4L1116.4,427.7L1118.8,409L1120,416.3L1121.1,425.1L1121.9,426.7L1123.9,436.3L1125,431L1126.6,436.3L1127.9,433L1129.4,427.6L1130.9,435.2L1132.8,467.7L1134.1,466.9L1135.6,472L1137.2,463.9L1138.3,464.6L1139.8,451.4L1141.4,457.7L1143,466L1143.4,465L1144.5,463.5L1146.1,465.2L1147.7,480.2L1147.9,480.3L1149.4,473.6L1150.9,479.2L1152.4,474.6L1153.9,472.3L1154.7,471.9L1155.5,475.1L1156.2,477.5L1159.1,492.9L1159.9,491.5L1160.9,489.1L1161.7,484.5L1162.5,481.5L1164.1,486.8L1165.6,477.3L1167.2,482.6L1167.9,481.9L1169.4,478.4L1170.9,479.4L1171,479.3" stroke="#ea8538"/>
<path d="M102.4,564L105,574.1L108.8,575.4L109.9,574.9L111.4,573L112.5,572L116.2,554.3L117.4,554.7L117.9,554.6L118.9,553.8L119.4,553.7L120,554.6L120.9,554.7L123.9,552.7L125,550.8L125.4,551.1L126.9,554.5L127.5,555L128.4,554.6L129.9,556.1L132.5,556.4L134.4,561.5L136.2,565.5L137.5,566.5L138.9,566.7L140,566.5L140.9,565.2L142.4,562.1L143.8,566L145,567.3L146.9,565.2L147.5,565.1L149.9,568.2L151.4,566.8L152.9,567.3L154.4,567.4L155,567.7L155.9,564.8L157.5,557.3L159.4,558.9L161.2,559.5L162.4,558.5L165,557L166.9,551.4L167.5,549L169.9,544.5L171.2,543L172.9,545.6L173.8,545.9L176.4,538.4L177.4,536L178.8,533.7L179.4,534.4L180.9,535.4L182.5,537.2L183.8,532.7L185.4,525.3L186.2,523.2L187.9,528.7L190,534.1L191.4,533.1L192.9,534.3L193.8,533.3L194.4,532.2L195.9,531.4L196.2,530.9L197.4,531.4L198.9,532.7L200,533.3L201.9,525.6L205,517.1L208.4,510.5L209.4,509.9L209.9,509.4L211.2,507.3L212.9,503.3L213.8,503.3L216.2,514.9L217.4,514.8L218.9,516.9L220,517.1L222.5,527.9L223.4,526.6L224.9,523.9L226.2,522.1L226.9,522.3L227.9,522.2L228.8,522.7L231.2,513L232.5,513L233.9,513.2L234.4,513.2L235,512.6L237.4,507.3L238.9,506.3L239.5,504.6L240.4,506.7L241.9,511.2L243.4,518L243.8,518.8L244.9,518.3L246.4,519L247.5,519.3L250,515.9L252.5,501L256.2,510.1L260,542.1L261.9,539.7L262.5,538.5L263.4,539.1L264.9,541.8L266.2,543.7L267.9,542.4L269.4,539.9L270,539.3L272.5,538.3L273.9,538.6L277.4,536.1L278.4,536L278.9,536.2L280,537.5L282.5,528.7L283.4,529L285,529.1L287.5,540.7L287.9,540.2L289.4,539.7L290.9,537.5L291.2,537.3L292.5,537.6L293.9,535.6L294.4,535.7L295,536.3L295.4,537L295.9,537.2L296.9,536.9L297.5,537.4L298.4,537.1L301.2,533L301.9,533.2L303.8,534.9L304.9,534.2L306.4,532.5L307.9,528.9L309.4,527.5L310,526.4L312.5,515.4L313.9,516.5L314.5,516.8L315.6,509.2L316.2,479.3L318.1,470.1L319.4,474.4L320,474.2L321.2,474.7L323.1,476.9L324.4,471.8L325.6,457.8L326.4,452.7L327.2,449.7L330.4,461.4L330.9,463L331.9,465L333.1,463L335,453.8L336.5,460.4L336.9,459.9L338.4,460.4L339.4,456.6L340,452.9L341.5,449.6L343.1,459.3L344.4,465.3L344.9,465.3L346,465.8L347.5,463.6L349,468.4L350.6,475.9L353.5,485.4L355,482.1L356.5,470.6L358.1,465.5L359.8,480.5L361.2,487.4L362.5,475.6L362.9,476.1L364,480.6L365.6,480.8L366.4,482.3L367.9,484L368.1,484.1L369.4,482.8L370.6,482.3L371.9,482.2L372.4,482.5L373.1,483.9L374.6,472.6L375.4,471.6L376.5,471.5L376.9,472L378.4,471.3L378.8,471.9L379.9,472.8L381,472.4L382.5,467.2L382.9,468.1L384.4,473.8L385.6,485.5L386.9,501.3L387.5,499.1L388.8,496.8L390,504.3L390.8,505L391.9,505.6L393.8,498.4L395.4,496.9L396.2,495.8L396.9,494.6L398.1,493.7L398.4,493L401.2,482.9L402.2,478.3L402.9,481.2L403.8,482.5L404.4,481.2L406.2,480.6L408.5,474.6L410,474.8L411.9,477L413.1,478.8L414.8,471.2L416.2,472.6L417.8,486.3L418.4,484.2L419.1,480.5L420.6,489.6L421.2,487.6L422.2,486.5L422.9,483.2L423.8,477.2L424.4,476.8L425.9,476.7L426.9,478.1L427.4,479.9L430.4,485.4L431.9,494L433.5,508.7L434.5,543.5L436.4,538L437,535.4L438.8,536.2L440,529.7L441.2,534.2L442.5,535.9L445,526.3L447.4,530.4L448.9,534.3L450,535.4L451.9,534.1L455,533.7L457.9,532.7L459.4,531.8L460,531.7L460.9,528.6L462.5,524.9L462.9,525.2L464.4,525L465.4,525.2L466.2,525.8L468.8,535.4L470.4,534.4L471.9,534.8L472.5,534.4L474.9,538L475.5,539.6L476.4,536.7L477.5,532.1L479.4,534.4L483.2,541.9L484.2,540.7L486.2,537.6L487.4,537.3L488.9,537.2L490.4,536.6L494.5,531.1L496.4,534.1L497,535.8L497.9,535.9L499.4,534.1L500.5,533.8L502.4,528.4L505.5,518L506.2,516.3L507,518.4L508.8,520.3L510,519.4L511.2,516.4L511.9,515.8L513,515.1L513.4,515L514.4,515.7L514.9,515.8L516.2,512.4L517,511.2L517.9,511.3L519.4,509.9L520,510.1L520.9,515L522.5,521.8L523.9,525.1L525,526.5L526.9,525.8L528.4,524.6L528.8,524.6L530,527.3L531.2,528.9L533.8,523.1L534.4,522.7L535.9,522.3L536.4,522.5L537.9,524.1L539.4,524.9L540,524.9L541.8,505.5L543.8,508.6L546.9,505.8L547.5,504.8L548.4,502.1L549.9,499.3L551.2,494.4L553.8,503.5L554.4,503.9L556.2,504.4L557.5,508.5L558.8,510.8L559.4,508.9L560.9,506.9L562.4,502.7L563.9,496.2L565.4,493.9L566.2,491.8L568.4,496.2L570,502.3L571.4,502L572.5,503L572.9,503.7L574.4,505.3L575.5,505.4L577,479.7L578,468.1L581.2,449.9L582.5,454L584.2,447L585.4,451.2L586.9,458.7L588.4,462.5L588.8,464.6L589.9,463.9L590.5,460L591.4,457.5L593,456.8L595.5,445.4L595.9,447.8L597,451.7L600,422.4L600.5,422.6L600.9,423.3L602.5,426.9L603.8,428.2L605,428.8L605.4,428L606.8,426.3L607,425.2L608.2,404.3L608.8,386L609.9,388.6L611.2,389.6L612.9,385.5L613.8,385.1L614.4,385.8L615.2,383.5L615.9,384L617.2,389L619.4,368.3L620.6,369.2L621.5,379.6L622.5,353.7L623.4,354.6L623.9,354.6L625.4,352.7L626,353.1L626.9,370.9L628.1,389.6L629.4,383.7L629.9,379L631.2,373.2L632.1,364.7L632.9,359.9L634.4,354.1L635.9,343.5L637.9,333.3L638.9,337.3L639.8,338.4L642.2,364.2L644.9,382.7L645.6,386.4L646.4,385.8L646.9,385.8L648.1,377.8L650,369.5L650.9,369L651.2,368.9L652.9,379L653.5,379.6L655,370.5L655.9,366.5L656.5,365.9L657.4,370.4L658.1,371.3L658.9,368.5L659.4,367.9L660.4,367.8L661.2,366.9L663.1,358.3L664.4,347.8L665.2,325L666.2,325.1L666.9,326.4L667.8,327.3L668.8,330.9L669.4,330.4L670.4,330.1L671.5,344.8L672.4,345.9L673.1,347.3L675,358.8L675.9,358.8L676.2,358.5L677.4,353.4L677.8,350.3L678.4,347.1L678.9,345.3L679.4,346.9L680.6,365.9L681.9,360.6L683.1,357.2L684,349.1L685,353.5L687.1,334L688.8,332.8L689.8,347.3L691.2,349L692.5,346.9L693.1,343.9L693.9,344.2L694.4,345L695.6,331.4L695.8,331.5L696.9,333.8L697.4,336L698.1,337.8L698.8,337.5L699.4,338.5L700.4,343.1L700.6,343.2L701.4,342.8L701.9,343.2L703.4,353.6L704,355.6L705.6,347.9L706.9,337.1L708.5,328.5L709.8,335.2L711,347.1L711.9,364.6L712.5,391L713.2,410.2L715,425.5L718.8,436.3L720,441.1L720.4,441.8L721.4,442.7L721.9,443.5L722.5,445.4L723.4,443L725,436.8L726.4,432.5L727.5,432.1L727.9,433.2L729.4,432L730,433.2L730.9,431.9L732.5,426.9L733.9,427.9L735,421.8L735.4,420.5L735.9,420.8L737,423L738.8,416.1L740.5,424.5L741.9,418.5L743.8,403.8L745,429.1L748.8,451.4L749.4,453.2L750.5,454.1L752.5,463.9L754.2,443L756.2,461L756.9,462.3L758.8,469L761.2,460.7L761.4,460.8L761.9,460.2L763,457.9L763.8,457.6L766.2,476L767.5,482.9L767.9,482.4L769.4,482.7L770,482.5L770.9,481.1L772.4,477.4L773.8,471.4L775.5,479.4L776.9,479.1L778,472.9L778.4,468.8L780,462.7L781.4,467.1L782,470.3L782.9,468.4L786.2,458L788,448.8L788.9,448.9L789.4,448.7L790.4,447.3L790.9,447.2L791.2,447.9L792.4,453.6L793.8,456.3L795.4,461.2L796.2,461.3L796.9,461L798.4,465.7L799.9,469.4L801.2,470.4L801.4,470.3L802.9,471.1L803.8,472.7L804.5,474.8L806.2,478.7L807.8,486.3L808.5,498.6L808.9,499.1L809.4,500.8L810.6,507L812.6,502.5L813.8,500.7L814.9,501.5L815.4,500.9L816.8,495.2L818.4,499.5L818.9,499.8L819.9,498.4L821,497.5L821.4,498.2L822.9,503L823.8,503.1L824.5,501.3L825.9,499.1L826.5,498.5L827.5,496.4L828.6,494.9L828.9,495.4L829.4,495.6L830.4,495.7L830.7,496L831.7,485.2L832.8,469.3L834.9,468.2L836.9,472.3L838.3,470.9L839.4,471.8L839.9,472.7L841.1,478L841.4,478.4L843.2,478.4L844.4,476.4L845.3,475.3L846.7,468L847.5,471L848.1,471.9L848.9,472.1L850.1,475.7L850.4,475.9L852.2,474.9L853.4,474.6L855,474.7L858.2,416.3L859.5,403.7L860,400.5L861.2,418.8L862.9,402.7L864.5,392.2L866.2,407.4L867,409.7L867.4,410.8L868,409.8L868.9,404.1L869.5,401.8L871.9,408.4L873,416.7L873.4,415.9L873.8,413.3L875,401.5L877,406.4L878.8,389.8L879.5,396.2L880.5,401.2L881.2,396.2L882.5,393.7L882.9,393.7L883.9,391.9L884.4,391.8L884.5,392.1L886.2,362.4L886.9,363.1L887.4,364L888,366.9L890,382.6L891.2,390.3L891.9,389.6L893,385.2L896.2,363.2L898,370.1L899.5,387.9L901.2,381.9L903,373.1L903.9,372.2L904.5,372.2L906.2,351.4L907.5,315.9L908.8,329.4L910.5,358.8L912,377.9L913.4,372.4L914.5,370.7L914.9,372L916.4,375.4L917,376.2L917.9,373.9L918.8,374.4L919.4,374L921.2,369.5L923,382.1L925.8,415.1L927.4,399.4L928.8,391L930.5,401.8L931.9,396.8L933,396.3L933.4,396.4L934.5,398.7L934.9,399.2L936.4,389.1L937,387.6L937.9,389.9L938.8,387L940,372.6L941.2,361.8L942.4,370.7L943,374.3L943.9,378.2L944.5,379L945.4,374.5L945.9,374L946.2,374.3L947,372.3L947.5,370.2L948.8,377L950,339.6L951.2,325.2L953,314.3L953.4,314.7L954.9,318.1L956.2,318.8L957,320.1L958.2,311L960,280.5L961.2,267.5L962.5,268.2L963.9,263.7L965,258.4L965.4,253.7L967,241.5L968.8,219.9L970.5,209.4L972,227.9L973.8,243.7L974.4,243.3L974.9,242.8L975.8,241.2L977.9,217.4L979.5,209.6L980.9,221L981.2,221.4L982,224.9L983,231.7L985,238L985.1,247.9L986.8,268.3L988.8,290L990,281.3L990.5,279.7L992,268.2L993.8,294.2L995.5,275L996.2,251.2L997.5,221.4L998.8,201.2L999.4,203.2L1000.5,204.1L1002,238.3L1003.8,194.5L1005,187.3L1007,196.9L1008.4,199L1008.8,200.3L1010,185.2L1011.2,180.5L1013,198.1L1014.4,205.3L1014.9,205.4L1015,205.2L1015.9,199.6L1016.2,198.8L1017.5,218.3L1018.5,209.5L1019.5,160.8L1020.5,125.4L1020.9,126.2L1022,127L1023.5,176L1025,200.7L1025.3,200.5L1026.2,201L1028,211L1028.4,210.7L1030,204.5L1031.4,213.5L1032,215.9L1032.9,215.7L1034.5,220L1035.9,217.1L1036.2,218.2L1038,206.5L1038.9,211.9L1039.4,211.9L1040,209.9L1040.5,205.9L1040.9,204.8L1042,204L1043.8,207.6L1045.3,194.4L1046.2,191.5L1046.9,196.4L1048,200.9L1049.5,182.3L1051.2,155.8L1053,174.7L1055,171L1055.9,173L1057,173.7L1058.8,180.7L1060.8,164.9L1062,167.5L1063.4,172.6L1063.8,173.5L1064.5,174.5L1066.2,203L1067.5,228.3L1068.4,233.3L1069.9,243.5L1071.2,248L1072,251.2L1072.9,245.7L1074.4,239.8L1075.5,233.7L1075.9,235.9L1077.5,249.9L1078.9,239.1L1079.5,236.5L1081.2,210.1L1081.9,205.1L1082,204.3L1083,201.9L1083.4,203.6L1083.8,204.4L1085,205.4L1086.2,200.7L1088,181.3L1089.5,197.6L1091.2,209.5L1092.5,204L1093.8,228.8L1094.3,308.9L1095,356.9L1096.8,330.7L1098.8,316.2L1100.8,334.2L1103.4,346.6L1104.5,350.5L1106.6,332.3L1108,329.2L1108.1,329.7L1109.4,331.5L1109.7,332.6L1110.9,340.3L1111.2,341.2L1112,340.6L1112.8,334.9L1113.9,332.5L1115.5,323.7L1119.2,293.2L1121.2,314.6L1123,324.8L1125,320L1126.4,323.1L1126.8,324.8L1128.8,315L1130.5,327.9L1132,351L1133.8,372.7L1134.1,372.1L1135.8,365.4L1137.2,369L1137.5,368.6L1138.8,355.4L1139.5,351.7L1140.3,351.2L1141.2,348.1L1143,362L1143.4,361.1L1144.5,362.7L1144.9,363L1145,362.8L1146.4,368.4L1147.9,381.5L1148.8,384.3L1149.4,378.7L1149.7,377.7L1150.8,375.1L1150.9,375.3L1152.9,367.9L1153.9,366.9L1155,364.2L1157,380.7L1158.8,400.5L1159.9,399L1160.8,398.3L1162.5,386.9L1163.8,392.3L1165.8,377.3L1166.4,378.8L1167.5,380.1L1169.4,378.3L1170.9,379.3L1171,379.1" stroke="#6c5ce7"/></g>
<line x1="102.0" y1="156" x2="1171" y2="156" stroke="#ffffff" stroke-opacity="0.05" stroke-width="1"/>
<line x1="102.0" y1="281" x2="1171" y2="281" stroke="#ffffff" stroke-opacity="0.05" stroke-width="1"/>
<line x1="102.0" y1="406" x2="1171" y2="406" stroke="#ffffff" stroke-opacity="0.05" stroke-width="1"/>
<line x1="102.0" y1="531" x2="1171" y2="531" stroke="#ffffff" stroke-opacity="0.05" stroke-width="1"/>
<text x="501.6" y="391.4" font-size="51" fill="#85859c" stroke="#85859c" stroke-width="1.4" opacity="0.17" textLength="281" lengthAdjust="spacingAndGlyphs">CryptoQuant</text>
<path d="M102.5,364.5L103.8,363.8L105.5,385.5L107.5,376.2L109.5,380L111.8,385L113,368.8L114.5,365.5L115.8,333.8L117.5,328.8L119.5,341.2L120.8,333.8L122.5,347.5L125.5,332.5L128,347.5L129.5,345L131.2,348.8L133,350L135,373.8L136.2,380.5L138,382.5L139.2,385.5L140.8,377.5L143.8,378.8L145,368.8L146.8,365.5L148.2,375L150.8,371.2L153.8,373.8L155.5,372.5L157.5,360L159.2,353.8L160.5,354.5L162,346.2L165,342.5L165.8,330L167,322L168,323.8L170,307.5L171.8,302L174.2,307L176.2,293.8L178.8,280.5L180.5,285L182.5,286.2L183.8,290L186.2,270L187.5,263.8L189.5,255L191.2,241.2L192.5,244.5L194.2,236.2L195.8,237.5L197.5,230L199.2,217.5L200.5,223L202,198.8L203.8,195L206.2,192L208,194.5L209.2,178.8L211,183.8L212.5,182L214.5,195L216.2,212.5L217,226.2L218.8,216.2L220.5,232.5L221.8,263.8L223,227.5L224.5,230L226.2,245L228,246.2L229.2,232.5L230.8,220.5L233,221.2L234.2,228.8L235.8,222.5L237,228.8L238.8,222.5L240,215.5L241.8,235L243,251.2L245.5,247.5L247.5,247.5L249.2,243.8L250.5,235L252,211.2L253.2,227.5L255,224.5L256.8,229.5L258.2,255L260,280L261.8,265L263.2,272L265,273.8L266.2,283.8L268,275L269.2,273.8L270.8,265L272.5,264.5L274.2,258.8L275.5,258L277,266.2L278.8,265L280,267.5L281.8,253.8L283.8,253.8L285,260L286.2,281.2L288,286.2L289.5,283.8L291.2,270L293.8,266.2L295.5,275L297.5,282.5L298.8,285L300,278.8L301.5,292.5L303.8,291.2L306.2,287.5L307.5,295L309.2,278.8L310.8,287L312.5,271.2L313.8,267.5L315,272.5L316.2,225L317.5,203.8L319.2,207.5L321.2,202.5L322.5,208L324.5,205.5L327.5,192.5L329.5,200L331.2,205.5L333.8,206.2L335.5,200.5L337.5,204.5L339.5,201.2L341.2,195L343,202.5L344.5,212.5L346.2,211.2L347.5,210L349.2,217.5L350.8,228.8L352,225L353.8,232.5L355.5,231.2L357.5,218.8L358.8,219.5L360.5,231.2L362.5,223L364.5,228.8L367,230L368.8,237.5L370.5,245L372.5,238.8L373.8,242.5L375.5,235.5L376.8,241.2L378.8,241.2L380.5,236.2L382.5,237.5L384.2,250L385.8,270L387,282.5L388.8,275L390,288.8L392,277.5L394.5,271.2L396.2,270L398.8,263.8L400.8,253.8L402.5,231.2L405,241.2L408,230L411.2,226.2L413,235L414.5,230.5L416.2,247.5L417.5,261.2L419.2,252L421.2,252.5L423.8,247L425.8,252.5L428.2,258.8L430,280L431.8,293.8L433,315L433.2,332.5L434.2,355L435.5,350L437,365.5L438.2,335L439.5,320L440.8,328.8L442,330L443.8,336.2L445,314.5L447,317.5L448.8,327.5L450,335L452.5,330L455,328L456.2,325L457.5,333L459.2,327.5L460.5,327.5L462,312.5L463.2,310L465,312.5L466.8,322.5L468.2,348.8L470,341.2L472,340L474.5,342.5L475.8,353.8L477,340L478.8,354.5L480.5,350L482,365L483.8,382.5L485.5,371.2L487.5,363.8L489.2,360L490.8,365L492.5,361.2L494.2,351.2L495.8,356.2L497.5,370L499.2,372.5L501.2,362.5L503,347.5L505,333.8L507,327.5L508.2,333.8L510,325L511.2,323.8L512.5,332.5L514.5,322.5L516.2,318.8L518.8,322.5L520,331.2L521.8,352.5L523.2,362.5L525,364.5L526.8,353.8L529.2,355L530.8,352L532.5,353.8L534.2,362.5L536.2,355L538.2,348.8L539.5,347.5L540.8,335L541.8,326.2L543.8,328.8L546.2,327.5L548.8,322.5L551.2,313L553,325L555,340L557,341.2L558.8,351.2L560.8,342.5L562.5,335L564.5,325L566.2,322.5L568,341.2L570,343.8L572,350L574.2,358.8L575.8,350L577,310L577.5,310L578.8,292.5L580.5,277.5L582,265L583.2,255L584.5,242L585.8,252.5L587.5,260L589,275L590.5,272.5L592.5,267.5L593.8,272.5L595.5,259.5L597,270L598,273L599.2,255L600.5,243L602,246.2L603.2,238.8L605,242.5L606.2,237.5L607.5,246.2L608.8,215.5L610.5,221.2L612,217.5L613.8,210L615.5,209.5L617,215.5L618.2,218.8L619.5,200L621.2,201.2L622.5,183L624.5,183L626.2,182.5L627.5,208.8L629.2,216.2L630.5,201.2L632,196.2L633.8,192.5L635,196.2L636.2,188.8L638,184.5L639.5,192.5L641.2,215L643,237L644.2,232.5L645.5,242.5L647,251.2L648.8,240L650,231.2L652,230L653.2,246.2L655,245L656.2,238.8L657.5,244.5L659.5,243.8L661.2,247L663,241.2L664.5,230L666.2,216.2L668,214.5L669.2,216.2L670.5,212.5L672,242.5L673.8,250L675,257.5L677,252.5L678.8,251.2L680.8,266.2L682.5,250L684.2,235L685,247.5L686.8,232.5L688.2,246.2L690,257.5L691.8,252L693.2,248.8L694.2,253.8L696.2,245L697.5,248L699.2,247.5L701.2,257.5L703,265L704.5,273.8L706.2,260L707.5,251.2L709.2,250L710.5,275L711.8,295L713.2,296.2L714.5,312.5L716.2,307.5L718,320L719.5,327.5L720,327.5L722,326.2L723.8,321.2L725,328.8L727,317.5L728.8,315L730.5,320L732.5,313.8L734.2,321.2L735.8,312.5L737.5,318.8L738.8,313.8L740.5,320L742,312.5L743.8,310L745,340L747,347.5L748.8,366.2L750.5,372.5L752.5,383.8L754.2,341.2L755.8,393.8L757.5,390L759.2,382.5L761.2,387.5L762.5,395L763.8,387.5L765.5,415L766.8,442.5L768.8,432.5L770.8,442.5L772.5,435L774.2,431.2L775.5,436.2L777.5,432.5L779.2,420L780.5,411.2L782,422.5L783.8,426.2L785.5,422.5L787.5,406.2L789.5,408.8L791.2,417.5L792.5,418.8L794.6,440L797.4,453.9L800.1,444.2L800.8,440L801.9,454.6L803.6,452.5L806.1,453.9L807.1,465L807.8,481.7L808.5,499.7L809.9,506.7L810.8,523.3L811.7,502.5L812.6,481.7L814,512.2L815.4,499.7L817.2,487.2L818.2,495.6L819.6,492.1L821,496.9L823.1,501.1L825.1,499.7L826.5,496.9L828.3,492.8L829.7,499L831.4,501.1L832.1,481.7L833.1,465L834.2,458.1L835.6,461.5L836.9,455.3L838.3,451.1L839.7,456L841.8,456.7L844.6,457.4L846,451.8L847.4,447.6L849.4,449.7L850.8,453.9L852.9,451.8L855.7,453.9L856.8,385L858.2,355L859.5,332.5L861.2,343.8L863,330L864.5,321.2L866.2,336.2L868,337.5L869.5,342.5L870.8,348.8L873,341.2L875.5,340L877,335L878,322.5L880,340L882.5,336.2L884.5,333.8L886.2,321.2L888,320L890,331.2L891.8,338.8L893.8,337.5L895,330L897,332.5L898.2,328.8L900,350L902,342.5L903.8,338.8L905.5,325L907,306.2L908.8,303.8L910.5,322.5L912.5,335L914.2,338.8L916.2,337.5L918,341.2L920,340L922,350L923.8,370L925.5,382.5L927,360L928.8,351.2L930.5,353.8L932.5,352.5L935,351.2L937,343.8L938.8,346.2L940,356.2L941.2,333.8L943,331.2L944.5,342.5L946.2,333.8L948,337.5L949.5,332.5L951.2,306.2L952.5,288.8L954.5,287.5L956.2,287.5L958,285L960,278.8L962,250L963.8,235L966.2,222.5L968,206.2L970,205L971.8,207.5L973.8,216.2L975.5,210L977.5,208.8L979.5,195L981.2,201.2L983.8,200L985,210L987,227.5L988.8,238.8L990.5,225L992,210L993.8,217.5L995.5,205L997,190L998.8,162.5L1000.5,163.8L1002,166.2L1003.8,145L1005,125L1006.2,126.2L1008,137.5L1009.5,146.2L1011.2,146.2L1013,166.2L1014.5,176.2L1016.2,157.5L1017.5,165L1018.8,121.2L1020,120L1021.8,123.8L1023,143.8L1025,136.2L1026.8,145L1028.8,143.8L1030.5,156.2L1032.5,155L1034.2,158.8L1036.2,150L1038,158.8L1040,160L1042,161.2L1043.8,158.8L1046.2,158.8L1048,155L1049.5,148.8L1051.2,128.8L1053,133.8L1055,140L1057,145L1058.8,137.5L1060.5,137.5L1062,146.2L1063.8,145L1065.5,150L1067,165L1068.8,171.2L1070,172.5L1071.8,193.8L1073.2,180L1075,181.2L1076.8,172.5L1078.8,167.5L1080.5,153.8L1082,145L1083.8,142.5L1085.5,146.2L1087,143.8L1088.2,131.2L1090,147.5L1091.8,143.8L1093,153.8L1094.2,187.5L1095.5,205L1097,180L1098.8,165L1100,166.2L1101.8,178.8L1103,187.5L1104.5,200L1106.2,193.8L1108,186.2L1110,186.2L1111.8,196.2L1113.2,201.2L1115,191.2L1116.8,188.8L1118.2,175L1120,171.2L1121.8,182.5L1123.2,188.8L1125,201.2L1127,196.2L1129.5,191.2L1130.8,212.5L1132,235L1133,250L1134.5,237.5L1136.2,243.8L1137.5,236.2L1138.8,238.8L1140,222.5L1141.8,222.5L1143.2,237.5L1145,240L1146.8,256.2L1148,267.5L1150,265L1151.8,272.5L1153.2,271.2L1156.2,287.5L1157.5,303.8L1159.2,310L1161.2,306.2L1162.5,292.5L1163.8,285L1165.5,281.2L1167,282.5L1168.2,277.5L1170,281.2L1171.2,282.5" fill="none" stroke="#141414" stroke-width="1.5" stroke-linejoin="miter" stroke-miterlimit="3"/>
<line x1="96" y1="100.0" x2="96" y2="655.5" stroke="#2a2a2e" stroke-width="2"/>
<line x1="1188" y1="100.0" x2="1188" y2="655.5" stroke="#d5d4e6" stroke-width="2"/>
<line x1="102.0" y1="655.5" x2="102.0" y2="664" stroke="#e2e2ea" stroke-width="1"/>
<text x="102.4" y="680.2" font-size="13" fill="#62636f" text-anchor="middle" textLength="54" lengthAdjust="spacingAndGlyphs">2024 Jan</text>
<line x1="193.9" y1="655.5" x2="193.9" y2="664" stroke="#e2e2ea" stroke-width="1"/>
<text x="194.3" y="680.2" font-size="13" fill="#62636f" text-anchor="middle" textLength="55" lengthAdjust="spacingAndGlyphs">2024 Mar</text>
<line x1="287.2" y1="655.5" x2="287.2" y2="664" stroke="#e2e2ea" stroke-width="1"/>
<text x="287.6" y="680.2" font-size="13" fill="#62636f" text-anchor="middle" textLength="57.4" lengthAdjust="spacingAndGlyphs">2024 May</text>
<line x1="380.6" y1="655.5" x2="380.6" y2="664" stroke="#e2e2ea" stroke-width="1"/>
<text x="381.0" y="680.2" font-size="13" fill="#62636f" text-anchor="middle" textLength="49.2" lengthAdjust="spacingAndGlyphs">2024 Jul</text>
<line x1="475.5" y1="655.5" x2="475.5" y2="664" stroke="#e2e2ea" stroke-width="1"/>
<text x="475.9" y="680.2" font-size="13" fill="#62636f" text-anchor="middle" textLength="55.7" lengthAdjust="spacingAndGlyphs">2024 Sep</text>
<line x1="568.9" y1="655.5" x2="568.9" y2="664" stroke="#e2e2ea" stroke-width="1"/>
<text x="569.3" y="680.2" font-size="13" fill="#62636f" text-anchor="middle" textLength="56" lengthAdjust="spacingAndGlyphs">2024 Nov</text>
<line x1="662.3" y1="655.5" x2="662.3" y2="664" stroke="#e2e2ea" stroke-width="1"/>
<text x="662.7" y="680.2" font-size="13" fill="#62636f" text-anchor="middle" textLength="53.6" lengthAdjust="spacingAndGlyphs">2025 Jan</text>
<line x1="752.6" y1="655.5" x2="752.6" y2="664" stroke="#e2e2ea" stroke-width="1"/>
<text x="753.0" y="680.2" font-size="13" fill="#62636f" text-anchor="middle" textLength="55.3" lengthAdjust="spacingAndGlyphs">2025 Mar</text>
<line x1="846.0" y1="655.5" x2="846.0" y2="664" stroke="#e2e2ea" stroke-width="1"/>
<text x="846.4" y="680.2" font-size="13" fill="#62636f" text-anchor="middle" textLength="57.4" lengthAdjust="spacingAndGlyphs">2025 May</text>
<line x1="939.4" y1="655.5" x2="939.4" y2="664" stroke="#e2e2ea" stroke-width="1"/>
<text x="939.8" y="680.2" font-size="13" fill="#62636f" text-anchor="middle" textLength="49.5" lengthAdjust="spacingAndGlyphs">2025 Jul</text>
<line x1="1034.3" y1="655.5" x2="1034.3" y2="664" stroke="#e2e2ea" stroke-width="1"/>
<text x="1034.7" y="680.2" font-size="13" fill="#62636f" text-anchor="middle" textLength="55.7" lengthAdjust="spacingAndGlyphs">2025 Sep</text>
<line x1="1127.7" y1="655.5" x2="1127.7" y2="664" stroke="#e2e2ea" stroke-width="1"/>
<text x="1128.1" y="680.2" font-size="13" fill="#62636f" text-anchor="middle" textLength="56" lengthAdjust="spacingAndGlyphs">2025 Nov</text>
<text x="83.8" y="113.7" font-size="15.8" fill="#111114" text-anchor="end">5K</text>
<text x="83.8" y="149.5" font-size="15.8" fill="#111114" text-anchor="end">4.5K</text>
<text x="83.8" y="189.5" font-size="15.8" fill="#111114" text-anchor="end">4K</text>
<text x="83.8" y="234.9" font-size="15.8" fill="#111114" text-anchor="end">3.5K</text>
<text x="83.8" y="287.3" font-size="15.8" fill="#111114" text-anchor="end">3K</text>
<text x="83.8" y="350.2" font-size="15.8" fill="#111114" text-anchor="end">2.5K</text>
<text x="83.8" y="425.1" font-size="15.8" fill="#111114" text-anchor="end">2K</text>
<text x="83.8" y="522.9" font-size="15.8" fill="#111114" text-anchor="end" textLength="31.3" lengthAdjust="spacingAndGlyphs">1.5K</text>
<text x="83.8" y="660.7" font-size="15.8" fill="#111114" text-anchor="end" textLength="16.9" lengthAdjust="spacingAndGlyphs">1K</text>
<text x="1199.8" y="160.9" font-size="15.8" fill="#111114">32B</text>
<text x="1199.8" y="285.9" font-size="15.8" fill="#111114">24B</text>
<text x="1199.8" y="410.9" font-size="15.8" fill="#111114">16B</text>
<text x="1199.8" y="535.9" font-size="15.8" fill="#111114">8B</text>
<text x="1199.8" y="660.9" font-size="15.8" fill="#111114">0</text>
<text transform="translate(42.7,378) rotate(-90)" font-size="14.6" fill="#111114" text-anchor="middle" textLength="92" lengthAdjust="spacingAndGlyphs">ETH Price ($)</text>
<text transform="translate(1238.2,378) rotate(90)" font-size="15" fill="#111114" text-anchor="middle" textLength="119" lengthAdjust="spacingAndGlyphs">Open Interest ($)</text>
<circle cx="1021.5" cy="131.7" r="21.6" fill="#7b68ee" fill-opacity="0.52" stroke="#111" stroke-width="1.4"/>
<circle cx="1170" cy="385" r="21.3" fill="#7b68ee" fill-opacity="0.52" stroke="#111" stroke-width="1.6"/>
<path d="M1030.7,126.9C1033.9,127.0 1044.7,127.1 1050.0,127.6C1055.3,128.1 1058.5,129.0 1062.7,129.7C1066.9,130.4 1071.1,131.1 1075.3,132.0C1079.5,132.9 1083.9,134.1 1088.0,135.3C1092.1,136.5 1096.0,137.6 1100.0,139.3C1104.0,141.0 1108.2,143.2 1112.0,145.3C1115.8,147.4 1119.2,149.6 1122.7,152.0C1126.2,154.4 1129.6,157.2 1132.7,160.0C1135.8,162.8 1138.6,165.7 1141.3,168.7C1144.0,171.7 1146.2,174.4 1148.7,178.0C1151.2,181.6 1153.8,185.8 1156.0,190.0C1158.2,194.2 1159.4,195.9 1162.0,203.5C1164.6,211.1 1169.1,225.6 1171.4,235.8C1173.7,246.1 1174.8,255.3 1175.8,265.0C1176.8,274.7 1177.1,286.5 1177.3,294.0C1177.5,301.5 1177.2,304.8 1177.0,310.0C1176.8,315.2 1176.6,319.7 1176.2,325.0C1175.8,330.3 1175.0,337.8 1174.6,342.0C1174.2,346.2 1173.8,349.1 1173.6,350.5" fill="none" stroke="#5b3df5" stroke-width="2.4" stroke-dasharray="6.4,6.1"/>
<path d="M1167.6,350.6L1179.1,350.6L1172.5,361.6Z" fill="#5b3df5"/>
<rect x="919.5" y="120.5" width="66.5" height="23" fill="#ffffff" fill-opacity="0.45" stroke="#2a2a2e" stroke-width="1.1"/>
<text x="952.3" y="137.8" font-size="15.2" font-weight="700" fill="#5b3df5" text-anchor="middle" textLength="54" lengthAdjust="spacingAndGlyphs">$12,6 B</text>
<rect x="1182.6" y="345.8" width="54.8" height="22" fill="#ffffff" fill-opacity="0.45" stroke="#2a2a2e" stroke-width="1.1"/>
<text x="1209.8" y="362.1" font-size="15.1" font-weight="700" fill="#5b3df5" text-anchor="middle" textLength="44.7" lengthAdjust="spacingAndGlyphs">$6,2 B</text>
<text x="1088.2" y="702" font-size="11.2" fill="#6e6f7c" textLength="160.2" lengthAdjust="spacingAndGlyphs">© CryptoQuant. All rights reserved</text>
</svg></body></html>
